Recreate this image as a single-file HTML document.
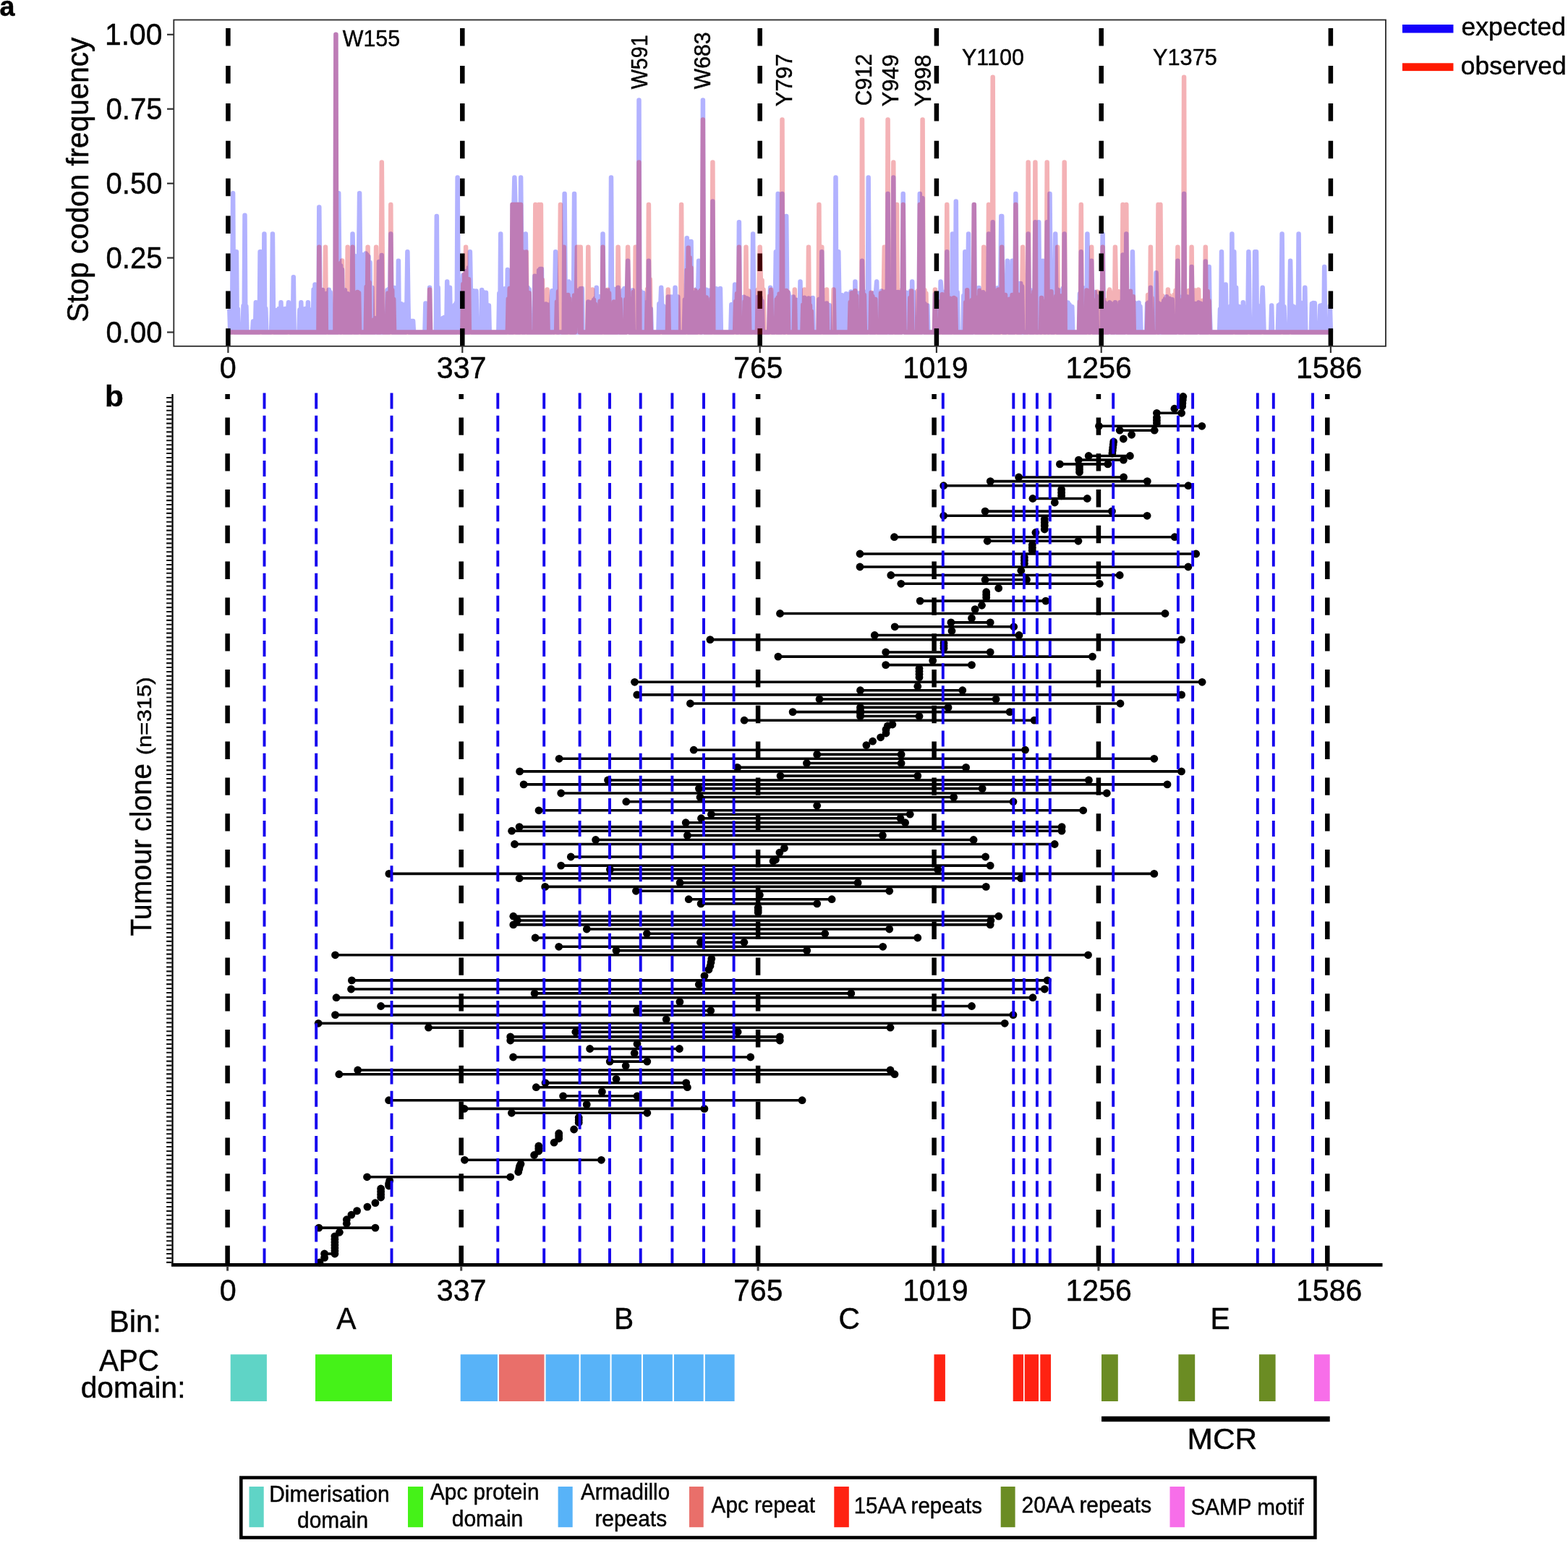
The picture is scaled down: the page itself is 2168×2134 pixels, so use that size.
<!DOCTYPE html>
<html><head><meta charset="utf-8"><title>APC stop codon frequency and tumour clone mutations</title>
<style>html,body{margin:0;padding:0;background:#fff;}svg{display:block;}text{font-family:"Liberation Sans",Arial,sans-serif;fill:#000;stroke:#000;stroke-width:0.45px;}</style>
</head><body>
<svg width="2168" height="2134" viewBox="0 0 2168 2134">
<rect width="2168" height="2134" fill="#fff"/>
<path d="M317.3,427.7 318.3,459.5 319.2,424.6 320.2,459.5 321.2,422.7 322.1,267.2 323.1,427.0 324.1,459.5 325.0,423.0 326.0,459.5 326.9,348.3 327.9,459.5 328.9,427.5 329.8,459.5 330.8,459.5 331.7,459.5 332.7,459.5 333.7,459.5 334.6,459.5 335.6,459.5 336.5,422.9 337.5,459.5 338.5,297.7 339.4,459.5 340.4,423.8 341.4,459.5 342.3,459.5 343.3,459.5 344.2,459.5 345.2,459.5 346.2,459.5 347.1,459.5 348.1,459.5 349.0,459.5 350.0,444.4 351.0,459.5 351.9,445.4 352.9,459.5 353.8,418.3 354.8,459.5 355.8,459.5 356.7,459.5 357.7,459.5 358.7,459.5 359.6,348.3 360.6,348.3 361.5,429.4 362.5,459.5 363.5,428.5 364.4,459.5 365.4,323.6 366.3,459.5 367.3,426.8 368.3,459.5 369.2,459.5 370.2,459.5 371.1,459.5 372.1,459.5 373.1,459.5 374.0,459.5 375.0,459.5 376.0,428.6 376.9,323.6 377.9,429.2 378.8,459.5 379.8,429.4 380.8,459.5 381.7,429.3 382.7,459.5 383.6,429.9 384.6,459.5 385.6,427.1 386.5,459.5 387.5,459.5 388.5,418.3 389.4,459.5 390.4,459.5 391.3,459.5 392.3,459.5 393.3,459.5 394.2,427.0 395.2,459.5 396.1,430.1 397.1,459.5 398.1,429.4 399.0,418.3 400.0,429.6 400.9,459.5 401.9,429.0 402.9,459.5 403.8,429.2 404.8,459.5 405.8,383.3 406.7,459.5 407.7,459.5 408.6,459.5 409.6,459.5 410.6,459.5 411.5,459.5 412.5,459.5 413.4,459.5 414.4,428.4 415.4,459.5 416.3,418.3 417.3,459.5 418.2,427.5 419.2,459.5 420.2,430.4 421.1,459.5 422.1,427.0 423.1,459.5 424.0,428.0 425.0,459.5 425.9,418.3 426.9,459.5 427.9,428.3 428.8,459.5 429.8,459.5 430.7,459.5 431.7,459.5 432.7,459.5 433.6,400.4 434.6,459.5 435.5,393.6 436.5,459.5 437.5,398.8 438.4,459.5 439.4,401.6 440.4,459.5 441.3,286.6 442.3,402.0 443.2,459.5 444.2,404.9 445.2,459.5 446.1,401.0 447.1,459.5 448.0,406.5 449.0,459.5 450.0,407.4 450.9,459.5 451.9,405.7 452.9,405.9 453.8,459.5 454.8,400.7 455.7,459.5 456.7,404.2 457.7,459.5 458.6,459.5 459.6,459.5 460.5,459.5 461.5,459.5 462.5,459.5 463.4,459.5 464.4,47.8 465.3,459.5 466.3,459.5 467.3,459.5 468.2,267.2 469.2,369.3 470.2,459.5 471.1,367.5 472.1,459.5 473.0,373.1 474.0,445.4 475.0,459.5 475.9,444.2 476.9,401.2 477.8,459.5 478.8,406.8 479.8,459.5 480.7,406.3 481.7,459.5 482.6,409.4 483.6,459.5 484.6,407.9 485.5,459.5 486.5,459.5 487.5,323.6 488.4,363.1 489.4,459.5 490.3,354.1 491.3,459.5 492.3,364.0 493.2,459.5 494.2,354.3 495.1,459.5 496.1,358.5 497.1,267.2 498.0,356.6 499.0,459.5 500.0,352.0 500.9,459.5 501.9,459.5 502.8,459.5 503.8,459.5 504.8,459.5 505.7,350.5 506.7,459.5 507.6,352.5 508.6,459.5 509.6,354.9 510.5,459.5 511.5,362.9 512.4,459.5 513.4,459.5 514.4,397.7 515.3,459.5 516.3,439.2 517.3,459.5 518.2,440.3 519.2,459.5 520.1,440.6 521.1,459.5 522.1,441.6 523.0,459.5 524.0,362.0 524.9,459.5 525.9,362.7 526.9,459.5 527.8,353.0 528.8,459.5 529.7,459.5 530.7,459.5 531.7,459.5 532.6,459.5 533.6,459.5 534.6,459.5 535.5,401.3 536.5,459.5 537.4,399.9 538.4,459.5 539.4,398.5 540.3,323.6 541.3,399.1 542.2,459.5 543.2,403.8 544.2,459.5 545.1,397.9 546.1,459.5 547.0,420.1 548.0,459.5 549.0,419.2 549.9,459.5 550.9,360.7 551.9,459.5 552.8,422.1 553.8,459.5 554.7,420.3 555.7,459.5 556.7,422.6 557.6,459.5 558.6,421.5 559.5,459.5 560.5,422.1 561.5,459.5 562.4,422.5 563.4,348.3 564.4,418.7 565.3,459.5 566.3,459.5 567.2,459.5 568.2,459.5 569.2,444.0 570.1,459.5 571.1,444.0 572.0,459.5 573.0,459.5 574.0,459.5 574.9,459.5 575.9,459.5 576.8,459.5 577.8,459.5 578.8,459.5 579.7,459.5 580.7,459.5 581.7,459.5 582.6,459.5 583.6,459.5 584.5,459.5 585.5,459.5 586.5,459.5 587.4,459.5 588.4,419.5 589.3,459.5 590.3,424.4 591.3,459.5 592.2,459.5 593.2,459.5 594.1,397.7 595.1,459.5 596.1,459.5 597.0,459.5 598.0,459.5 599.0,459.5 599.9,459.5 600.9,459.5 601.8,459.5 602.8,459.5 603.8,298.9 604.7,459.5 605.7,397.7 606.6,459.5 607.6,459.5 608.6,459.5 609.5,459.5 610.5,459.5 611.4,459.5 612.4,440.0 613.4,459.5 614.3,439.1 615.3,459.5 616.3,438.9 617.2,459.5 618.2,389.5 619.1,459.5 620.1,439.2 621.1,459.5 622.0,397.7 623.0,459.5 623.9,439.0 624.9,459.5 625.9,459.5 626.8,459.5 627.8,459.5 628.8,422.1 629.7,459.5 630.7,419.2 631.6,459.5 632.6,245.4 633.6,400.1 634.5,459.5 635.5,401.0 636.4,459.5 637.4,401.1 638.4,459.5 639.3,398.9 640.3,380.5 641.2,459.5 642.2,382.4 643.2,459.5 644.1,375.3 645.1,459.5 646.1,375.5 647.0,459.5 648.0,370.1 648.9,459.5 649.9,348.3 650.9,404.7 651.8,459.5 652.8,404.6 653.7,459.5 654.7,402.2 655.7,459.5 656.6,404.2 657.6,459.5 658.5,402.5 659.5,459.5 660.5,459.5 661.4,459.5 662.4,459.5 663.4,459.5 664.3,459.5 665.3,459.5 666.2,401.1 667.2,459.5 668.2,404.1 669.1,459.5 670.1,406.2 671.0,459.5 672.0,404.8 673.0,459.5 673.9,459.5 674.9,459.5 675.9,422.4 676.8,459.5 677.8,459.5 678.7,459.5 679.7,459.5 680.7,459.5 681.6,459.5 682.6,459.5 683.5,459.5 684.5,459.5 685.5,459.5 686.4,459.5 687.4,459.5 688.3,459.5 689.3,459.5 690.3,405.7 691.2,459.5 692.2,323.6 693.2,459.5 694.1,400.2 695.1,459.5 696.0,401.1 697.0,459.5 698.0,399.3 698.9,459.5 699.9,459.5 700.8,459.5 701.8,373.0 702.8,387.1 703.7,459.5 704.7,387.3 705.6,459.5 706.6,386.3 707.6,459.5 708.5,282.9 709.5,459.5 710.5,282.9 711.4,245.4 712.4,282.9 713.3,459.5 714.3,282.9 715.3,459.5 716.2,282.9 717.2,459.5 718.1,282.9 719.1,459.5 720.1,245.4 721.0,340.2 722.0,459.5 722.9,345.6 723.9,459.5 724.9,342.6 725.8,459.5 726.8,323.6 727.8,398.0 728.7,459.5 729.7,398.0 730.6,459.5 731.6,400.3 732.6,459.5 733.5,459.5 734.5,459.5 735.4,459.5 736.4,459.5 737.4,459.5 738.3,459.5 739.3,381.7 740.3,459.5 741.2,382.3 742.2,459.5 743.1,381.9 744.1,459.5 745.1,373.9 746.0,459.5 747.0,371.9 747.9,459.5 748.9,372.0 749.9,459.5 750.8,459.5 751.8,459.5 752.7,459.5 753.7,459.5 754.7,420.4 755.6,459.5 756.6,421.3 757.6,459.5 758.5,424.4 759.5,459.5 760.4,459.5 761.4,459.5 762.4,418.3 763.3,402.2 764.3,459.5 765.2,403.8 766.2,459.5 767.2,405.2 768.1,348.3 769.1,398.5 770.0,459.5 771.0,459.5 772.0,459.5 772.9,459.5 773.9,459.5 774.9,459.5 775.8,459.5 776.8,459.5 777.7,459.5 778.7,459.5 779.7,459.5 780.6,268.1 781.6,397.7 782.5,459.5 783.5,397.4 784.5,459.5 785.4,394.5 786.4,389.5 787.3,391.4 788.3,459.5 789.3,397.8 790.2,459.5 791.2,393.0 792.2,459.5 793.1,397.9 794.1,268.1 795.0,459.5 796.0,459.5 797.0,401.5 797.9,459.5 798.9,406.5 799.8,459.5 800.8,404.5 801.8,459.5 802.7,399.3 803.7,459.5 804.7,398.9 805.6,459.5 806.6,459.5 807.5,459.5 808.5,459.5 809.5,459.5 810.4,459.5 811.4,459.5 812.3,459.5 813.3,417.4 814.3,459.5 815.2,418.7 816.2,459.5 817.1,418.4 818.1,459.5 819.1,418.3 820.0,459.5 821.0,415.0 822.0,459.5 822.9,412.7 823.9,459.5 824.8,397.7 825.8,459.5 826.8,411.1 827.7,459.5 828.7,410.2 829.6,459.5 830.6,417.3 831.6,459.5 832.5,459.5 833.5,323.6 834.4,402.6 835.4,459.5 836.4,406.4 837.3,459.5 838.3,401.8 839.3,459.5 840.2,405.8 841.2,459.5 842.1,405.4 843.1,459.5 844.1,459.5 845.0,245.4 846.0,400.1 846.9,459.5 847.9,400.5 848.9,459.5 849.8,400.0 850.8,459.5 851.7,403.2 852.7,459.5 853.7,459.5 854.6,397.7 855.6,459.5 856.6,459.5 857.5,459.5 858.5,459.5 859.4,459.5 860.4,459.5 861.4,401.6 862.3,459.5 863.3,399.0 864.2,459.5 865.2,406.2 866.2,459.5 867.1,401.0 868.1,360.7 869.1,402.0 870.0,459.5 871.0,403.1 871.9,459.5 872.9,406.1 873.9,459.5 874.8,401.6 875.8,459.5 876.7,459.5 877.7,459.5 878.7,459.5 879.6,459.5 880.6,459.5 881.5,459.5 882.5,459.5 883.5,138.4 884.4,459.5 885.4,402.5 886.4,459.5 887.3,405.8 888.3,459.5 889.2,404.9 890.2,459.5 891.2,418.3 892.1,459.5 893.1,459.5 894.0,459.5 895.0,459.5 896.0,459.5 896.9,360.7 897.9,430.4 898.8,459.5 899.8,427.3 900.8,459.5 901.7,459.5 902.7,459.5 903.7,459.5 904.6,459.5 905.6,459.5 906.5,459.5 907.5,459.5 908.5,459.5 909.4,459.5 910.4,459.5 911.3,420.3 912.3,459.5 913.3,421.5 914.2,397.7 915.2,421.8 916.1,459.5 917.1,423.2 918.1,459.5 919.0,459.5 920.0,459.5 921.0,459.5 921.9,459.5 922.9,459.5 923.8,410.5 924.8,459.5 925.8,411.5 926.7,459.5 927.7,410.4 928.6,459.5 929.6,410.8 930.6,459.5 931.5,413.4 932.5,459.5 933.5,397.7 934.4,459.5 935.4,416.7 936.3,459.5 937.3,410.6 938.3,459.5 939.2,459.5 940.2,459.5 941.1,459.5 942.1,459.5 943.1,459.5 944.0,459.5 945.0,459.5 945.9,459.5 946.9,414.6 947.9,459.5 948.8,411.6 949.8,329.3 950.8,459.5 951.7,334.0 952.7,459.5 953.6,340.1 954.6,459.5 955.6,334.0 956.5,459.5 957.5,404.2 958.4,459.5 959.4,405.9 960.4,459.5 961.3,406.5 962.3,459.5 963.2,400.1 964.2,459.5 965.2,402.9 966.1,360.7 967.1,406.5 968.1,459.5 969.0,459.5 970.0,459.5 970.9,459.5 971.9,138.4 972.9,401.6 973.8,459.5 974.8,401.4 975.7,459.5 976.7,400.7 977.7,459.5 978.6,404.0 979.6,459.5 980.6,401.7 981.5,459.5 982.5,459.5 983.4,459.5 984.4,459.5 985.4,278.4 986.3,405.0 987.3,459.5 988.2,406.1 989.2,459.5 990.2,399.2 991.1,459.5 992.1,404.4 993.0,459.5 994.0,403.9 995.0,459.5 995.9,399.1 996.9,459.5 997.9,459.5 998.8,459.5 999.8,459.5 1000.7,459.5 1001.7,459.5 1002.7,459.5 1003.6,459.5 1004.6,459.5 1005.5,459.5 1006.5,459.5 1007.5,459.5 1008.4,459.5 1009.4,459.5 1010.3,459.5 1011.3,421.3 1012.3,459.5 1013.2,424.4 1014.2,459.5 1015.2,423.5 1016.1,393.6 1017.1,419.3 1018.0,459.5 1019.0,459.5 1020.0,459.5 1020.9,459.5 1021.9,307.2 1022.8,413.1 1023.8,459.5 1024.8,413.2 1025.7,459.5 1026.7,412.7 1027.6,459.5 1028.6,410.8 1029.6,459.5 1030.5,412.8 1031.5,459.5 1032.5,412.6 1033.4,459.5 1034.4,413.5 1035.3,459.5 1036.3,415.3 1037.3,459.5 1038.2,459.5 1039.2,459.5 1040.1,459.5 1041.1,323.6 1042.1,413.9 1043.0,459.5 1044.0,412.3 1045.0,459.5 1045.9,417.2 1046.9,459.5 1047.8,410.9 1048.8,459.5 1049.8,416.9 1050.7,459.5 1051.7,411.8 1052.6,459.5 1053.6,416.6 1054.6,459.5 1055.5,459.5 1056.5,459.5 1057.4,459.5 1058.4,459.5 1059.4,459.5 1060.3,459.5 1061.3,459.5 1062.3,459.5 1063.2,459.5 1064.2,416.8 1065.1,397.7 1066.1,411.4 1067.1,459.5 1068.0,415.7 1069.0,459.5 1069.9,416.2 1070.9,459.5 1071.9,416.4 1072.8,348.3 1073.8,459.5 1074.7,459.5 1075.7,268.1 1076.7,459.5 1077.6,459.5 1078.6,459.5 1079.6,459.5 1080.5,459.5 1081.5,268.1 1082.4,405.4 1083.4,459.5 1084.4,406.5 1085.3,459.5 1086.3,406.3 1087.2,298.9 1088.2,406.1 1089.2,459.5 1090.1,404.7 1091.1,410.5 1092.0,459.5 1093.0,418.3 1094.0,459.5 1094.9,413.2 1095.9,459.5 1096.9,410.6 1097.8,459.5 1098.8,417.0 1099.7,459.5 1100.7,414.8 1101.7,459.5 1102.6,459.5 1103.6,459.5 1104.5,459.5 1105.5,459.5 1106.5,389.5 1107.4,459.5 1108.4,459.5 1109.4,459.5 1110.3,414.6 1111.3,459.5 1112.2,411.7 1113.2,459.5 1114.2,416.5 1115.1,459.5 1116.1,413.5 1117.0,459.5 1118.0,412.6 1119.0,459.5 1119.9,414.2 1120.9,459.5 1121.8,417.0 1122.8,459.5 1123.8,412.1 1124.7,459.5 1125.7,459.5 1126.7,459.5 1127.6,459.5 1128.6,459.5 1129.5,459.5 1130.5,459.5 1131.5,459.5 1132.4,414.0 1133.4,459.5 1134.3,459.5 1135.3,459.5 1136.3,348.3 1137.2,424.1 1138.2,459.5 1139.1,424.3 1140.1,459.5 1141.1,419.9 1142.0,459.5 1143.0,419.4 1144.0,459.5 1144.9,424.1 1145.9,459.5 1146.8,422.2 1147.8,459.5 1148.8,459.5 1149.7,459.5 1150.7,459.5 1151.6,459.5 1152.6,459.5 1153.6,459.5 1154.5,459.5 1155.5,245.4 1156.5,459.5 1157.4,459.5 1158.4,459.5 1159.3,348.3 1160.3,409.6 1161.3,459.5 1162.2,411.4 1163.2,459.5 1164.1,408.2 1165.1,459.5 1166.1,412.4 1167.0,459.5 1168.0,414.0 1168.9,459.5 1169.9,406.3 1170.9,459.5 1171.8,459.5 1172.8,459.5 1173.8,459.5 1174.7,406.6 1175.7,459.5 1176.6,403.5 1177.6,459.5 1178.6,406.0 1179.5,459.5 1180.5,409.9 1181.4,459.5 1182.4,389.5 1183.4,459.5 1184.3,408.9 1185.3,459.5 1186.2,405.6 1187.2,459.5 1188.2,406.1 1189.1,459.5 1190.1,459.5 1191.1,459.5 1192.0,360.7 1193.0,410.3 1193.9,459.5 1194.9,404.5 1195.9,459.5 1196.8,403.7 1197.8,459.5 1198.7,403.8 1199.7,459.5 1200.7,245.4 1201.6,409.1 1202.6,459.5 1203.5,408.0 1204.5,459.5 1205.5,407.4 1206.4,459.5 1207.4,405.4 1208.4,459.5 1209.3,404.9 1210.3,459.5 1211.2,402.3 1212.2,389.5 1213.2,459.5 1214.1,459.5 1215.1,459.5 1216.0,459.5 1217.0,459.5 1218.0,459.5 1218.9,402.5 1219.9,459.5 1220.9,408.3 1221.8,459.5 1222.8,404.1 1223.7,459.5 1224.7,403.3 1225.7,459.5 1226.6,459.5 1227.6,268.1 1228.5,459.5 1229.5,459.5 1230.5,459.5 1231.4,459.5 1232.4,459.5 1233.3,459.5 1234.3,459.5 1235.3,245.4 1236.2,409.4 1237.2,459.5 1238.2,407.7 1239.1,459.5 1240.1,404.3 1241.0,459.5 1242.0,404.0 1243.0,459.5 1243.9,404.4 1244.9,459.5 1245.8,405.8 1246.8,459.5 1247.8,403.2 1248.7,268.1 1249.7,401.9 1250.6,459.5 1251.6,405.0 1252.6,459.5 1253.5,404.7 1254.5,459.5 1255.5,410.4 1256.4,459.5 1257.4,404.7 1258.3,459.5 1259.3,402.2 1260.3,459.5 1261.2,389.5 1262.2,459.5 1263.1,403.7 1264.1,459.5 1265.1,459.5 1266.0,459.5 1267.0,459.5 1267.9,459.5 1268.9,459.5 1269.9,459.5 1270.8,404.8 1271.8,268.1 1272.8,459.5 1273.7,459.5 1274.7,459.5 1275.6,274.2 1276.6,418.8 1277.6,459.5 1278.5,420.1 1279.5,459.5 1280.4,422.4 1281.4,459.5 1282.4,422.4 1283.3,459.5 1284.3,459.5 1285.3,459.5 1286.2,459.5 1287.2,459.5 1288.1,459.5 1289.1,459.5 1290.1,459.5 1291.0,459.5 1292.0,459.5 1292.9,406.7 1293.9,459.5 1294.9,409.2 1295.8,459.5 1296.8,406.3 1297.7,459.5 1298.7,406.2 1299.7,459.5 1300.6,389.5 1301.6,402.6 1302.6,459.5 1303.5,410.1 1304.5,459.5 1305.4,409.2 1306.4,459.5 1307.4,403.2 1308.3,459.5 1309.3,348.3 1310.2,459.5 1311.2,408.6 1312.2,459.5 1313.1,459.5 1314.1,459.5 1315.0,459.5 1316.0,459.5 1317.0,323.6 1317.9,408.5 1318.9,459.5 1319.9,408.1 1320.8,459.5 1321.8,278.4 1322.7,459.5 1323.7,404.3 1324.7,459.5 1325.6,459.5 1326.6,459.5 1327.5,459.5 1328.5,459.5 1329.5,459.5 1330.4,459.5 1331.4,459.5 1332.3,409.1 1333.3,459.5 1334.3,348.3 1335.2,459.5 1336.2,407.3 1337.2,459.5 1338.1,408.2 1339.1,323.6 1340.0,459.5 1341.0,459.5 1342.0,459.5 1342.9,459.5 1343.9,459.5 1344.8,459.5 1345.8,459.5 1346.8,282.9 1347.7,404.7 1348.7,459.5 1349.7,403.0 1350.6,459.5 1351.6,405.3 1352.5,459.5 1353.5,397.9 1354.5,459.5 1355.4,404.1 1356.4,459.5 1357.3,405.1 1358.3,459.5 1359.3,404.3 1360.2,459.5 1361.2,406.6 1362.1,459.5 1363.1,459.5 1364.1,459.5 1365.0,459.5 1366.0,459.5 1367.0,323.6 1367.9,459.5 1368.9,459.5 1369.8,398.0 1370.8,459.5 1371.8,399.0 1372.7,307.2 1373.7,406.6 1374.6,459.5 1375.6,401.2 1376.6,459.5 1377.5,401.9 1378.5,459.5 1379.4,398.2 1380.4,459.5 1381.4,397.9 1382.3,459.5 1383.3,402.7 1384.3,298.9 1385.2,298.9 1386.2,402.3 1387.1,459.5 1388.1,397.8 1389.1,459.5 1390.0,405.1 1391.0,459.5 1391.9,404.7 1392.9,360.7 1393.9,402.4 1394.8,459.5 1395.8,402.7 1396.8,459.5 1397.7,459.5 1398.7,459.5 1399.6,360.7 1400.6,459.5 1401.6,459.5 1402.5,459.5 1403.5,400.1 1404.4,268.1 1405.4,398.4 1406.4,459.5 1407.3,392.0 1408.3,459.5 1409.2,397.5 1410.2,459.5 1411.2,391.9 1412.1,459.5 1413.1,396.3 1414.1,459.5 1415.0,459.5 1416.0,459.5 1416.9,459.5 1417.9,459.5 1418.9,459.5 1419.8,459.5 1420.8,459.5 1421.7,323.6 1422.7,402.3 1423.7,459.5 1424.6,401.3 1425.6,459.5 1426.5,402.2 1427.5,459.5 1428.5,404.1 1429.4,459.5 1430.4,404.8 1431.4,307.2 1432.3,459.5 1433.3,459.5 1434.2,459.5 1435.2,459.5 1436.2,307.2 1437.1,398.5 1438.1,459.5 1439.0,399.1 1440.0,459.5 1441.0,400.1 1441.9,360.7 1442.9,404.6 1443.8,459.5 1444.8,400.6 1445.8,459.5 1446.7,403.0 1447.7,307.2 1448.7,459.5 1449.6,459.5 1450.6,459.5 1451.5,268.1 1452.5,389.6 1453.5,459.5 1454.4,390.1 1455.4,459.5 1456.3,392.3 1457.3,459.5 1458.3,396.6 1459.2,323.6 1460.2,404.0 1461.2,459.5 1462.1,400.4 1463.1,459.5 1464.0,402.5 1465.0,459.5 1466.0,402.0 1466.9,459.5 1467.9,402.1 1468.8,459.5 1469.8,398.8 1470.8,459.5 1471.7,323.6 1472.7,424.4 1473.6,459.5 1474.6,424.1 1475.6,459.5 1476.5,418.4 1477.5,459.5 1478.5,421.2 1479.4,459.5 1480.4,423.4 1481.3,459.5 1482.3,424.3 1483.3,459.5 1484.2,459.5 1485.2,459.5 1486.1,459.5 1487.1,459.5 1488.1,459.5 1489.0,459.5 1490.0,459.5 1490.9,459.5 1491.9,459.5 1492.9,406.2 1493.8,459.5 1494.8,348.3 1495.8,459.5 1496.7,398.4 1497.7,459.5 1498.6,398.6 1499.6,459.5 1500.6,404.7 1501.5,459.5 1502.5,459.5 1503.4,323.6 1504.4,403.0 1505.4,459.5 1506.3,409.0 1507.3,459.5 1508.2,406.3 1509.2,360.7 1510.2,409.5 1511.1,459.5 1512.1,407.9 1513.1,459.5 1514.0,403.9 1515.0,459.5 1515.9,409.6 1516.9,459.5 1517.9,459.5 1518.8,459.5 1519.8,459.5 1520.7,459.5 1521.7,459.5 1522.7,459.5 1523.6,459.5 1524.6,323.6 1525.6,418.5 1526.5,459.5 1527.5,418.4 1528.4,459.5 1529.4,421.4 1530.4,459.5 1531.3,421.1 1532.3,459.5 1533.2,420.2 1534.2,418.3 1535.2,419.2 1536.1,459.5 1537.1,420.5 1538.0,459.5 1539.0,459.5 1540.0,459.5 1540.9,459.5 1541.9,418.3 1542.9,459.5 1543.8,459.5 1544.8,459.5 1545.7,459.5 1546.7,423.5 1547.7,459.5 1548.6,418.3 1549.6,459.5 1550.5,423.0 1551.5,459.5 1552.5,352.5 1553.4,459.5 1554.4,459.5 1555.3,459.5 1556.3,459.5 1557.3,323.6 1558.2,409.1 1559.2,459.5 1560.2,402.9 1561.1,459.5 1562.1,409.9 1563.0,459.5 1564.0,408.0 1565.0,459.5 1565.9,348.3 1566.9,419.9 1567.8,459.5 1568.8,418.7 1569.8,459.5 1570.7,420.7 1571.7,459.5 1572.6,423.7 1573.6,459.5 1574.6,418.8 1575.5,459.5 1576.5,424.0 1577.5,459.5 1578.4,459.5 1579.4,459.5 1580.3,459.5 1581.3,459.5 1582.3,459.5 1583.2,459.5 1584.2,459.5 1585.1,459.5 1586.1,420.1 1587.1,459.5 1588.0,418.6 1589.0,459.5 1590.0,459.5 1590.9,397.7 1591.9,459.5 1592.8,459.5 1593.8,459.5 1594.8,459.5 1595.7,459.5 1596.7,459.5 1597.6,459.5 1598.6,377.2 1599.6,422.3 1600.5,459.5 1601.5,419.2 1602.4,459.5 1603.4,424.3 1604.4,459.5 1605.3,421.0 1606.3,459.5 1607.3,420.3 1608.2,459.5 1609.2,415.9 1610.1,459.5 1611.1,413.3 1612.1,459.5 1613.0,410.3 1614.0,459.5 1614.9,415.7 1615.9,459.5 1616.9,413.1 1617.8,459.5 1618.8,416.6 1619.7,459.5 1620.7,414.2 1621.7,459.5 1622.6,459.5 1623.6,459.5 1624.6,459.5 1625.5,459.5 1626.5,459.5 1627.4,459.5 1628.4,360.7 1629.4,415.4 1630.3,459.5 1631.3,410.5 1632.2,459.5 1633.2,415.5 1634.2,459.5 1635.1,413.4 1636.1,459.5 1637.1,268.1 1638.0,414.9 1639.0,459.5 1639.9,412.2 1640.9,459.5 1641.9,410.5 1642.8,459.5 1643.8,417.0 1644.7,459.5 1645.7,411.0 1646.7,459.5 1647.6,368.9 1648.6,420.9 1649.5,459.5 1650.5,420.1 1651.5,459.5 1652.4,419.9 1653.4,459.5 1654.4,422.9 1655.3,459.5 1656.3,422.4 1657.2,418.3 1658.2,420.8 1659.2,459.5 1660.1,419.8 1661.1,459.5 1662.0,421.3 1663.0,459.5 1664.0,459.5 1664.9,459.5 1665.9,459.5 1666.8,361.5 1667.8,459.5 1668.8,459.5 1669.7,459.5 1670.7,459.5 1671.7,368.9 1672.6,431.2 1673.6,459.5 1674.5,459.5 1675.5,459.5 1676.5,459.5 1677.4,459.5 1678.4,459.5 1679.3,459.5 1680.3,459.5 1681.3,459.5 1682.2,459.5 1683.2,459.5 1684.1,459.5 1685.1,459.5 1686.1,459.5 1687.0,427.5 1688.0,459.5 1689.0,348.3 1689.9,459.5 1690.9,423.7 1691.8,459.5 1692.8,427.5 1693.8,459.5 1694.7,393.6 1695.7,459.5 1696.6,459.5 1697.6,459.5 1698.6,459.5 1699.5,459.5 1700.5,459.5 1701.5,423.2 1702.4,459.5 1703.4,323.6 1704.3,459.5 1705.3,423.0 1706.3,348.3 1707.2,424.3 1708.2,459.5 1709.1,397.7 1710.1,459.5 1711.1,423.8 1712.0,459.5 1713.0,423.9 1713.9,459.5 1714.9,459.5 1715.9,459.5 1716.8,459.5 1717.8,459.5 1718.8,418.3 1719.7,459.5 1720.7,459.5 1721.6,426.6 1722.6,459.5 1723.6,424.7 1724.5,459.5 1725.5,424.7 1726.4,348.3 1727.4,425.4 1728.4,459.5 1729.3,459.5 1730.3,459.5 1731.2,459.5 1732.2,459.5 1733.2,459.5 1734.1,459.5 1735.1,348.3 1736.1,459.5 1737.0,348.3 1738.0,459.5 1738.9,422.8 1739.9,459.5 1740.9,424.0 1741.8,459.5 1742.8,427.8 1743.7,459.5 1744.7,423.1 1745.7,397.7 1746.6,425.2 1747.6,459.5 1748.5,459.5 1749.5,459.5 1750.5,459.5 1751.4,459.5 1752.4,459.5 1753.4,459.5 1754.3,459.5 1755.3,459.5 1756.2,459.5 1757.2,459.5 1758.2,422.4 1759.1,459.5 1760.1,459.5 1761.0,459.5 1762.0,459.5 1763.0,459.5 1763.9,459.5 1764.9,459.5 1765.9,459.5 1766.8,459.5 1767.8,422.3 1768.7,459.5 1769.7,421.0 1770.7,459.5 1771.6,420.3 1772.6,323.6 1773.5,423.4 1774.5,459.5 1775.5,424.3 1776.4,459.5 1777.4,459.5 1778.3,459.5 1779.3,459.5 1780.3,459.5 1781.2,459.5 1782.2,459.5 1783.2,421.0 1784.1,360.7 1785.1,423.0 1786.0,459.5 1787.0,423.3 1788.0,459.5 1788.9,424.3 1789.9,459.5 1790.8,459.5 1791.8,459.5 1792.8,459.5 1793.7,459.5 1794.7,459.5 1795.6,323.6 1796.6,459.5 1797.6,459.5 1798.5,418.8 1799.5,459.5 1800.5,424.1 1801.4,459.5 1802.4,424.1 1803.3,459.5 1804.3,397.7 1805.3,459.5 1806.2,459.5 1807.2,459.5 1808.1,459.5 1809.1,459.5 1810.1,459.5 1811.0,459.5 1812.0,459.5 1812.9,459.5 1813.9,419.9 1814.9,459.5 1815.8,419.0 1816.8,459.5 1817.8,419.3 1818.7,459.5 1819.7,459.5 1820.6,459.5 1821.6,459.5 1822.6,459.5 1823.5,459.5 1824.5,459.5 1825.4,422.8 1826.4,459.5 1827.4,422.3 1828.3,459.5 1829.3,423.1 1830.3,459.5 1831.2,368.9 1832.2,459.5 1833.1,459.5 1834.1,459.5 1835.1,459.5 1836.0,459.5 1837.0,459.5 1837.9,459.5 1838.9,423.2 1839.9,459.5" fill="none" stroke="#0000ff" stroke-opacity="0.3" stroke-width="6.5" stroke-linejoin="round" stroke-linecap="butt"/>
<line x1="1050.7" y1="478.8" x2="1050.7" y2="27.5" stroke="#000" stroke-width="6.5" stroke-dasharray="24.5 27.4"/>
<path d="M317.3,459.5 318.3,459.5 319.2,459.5 320.2,459.5 321.2,459.5 322.1,459.5 323.1,459.5 324.1,459.5 325.0,459.5 326.0,459.5 326.9,459.5 327.9,459.5 328.9,459.5 329.8,459.5 330.8,459.5 331.7,459.5 332.7,459.5 333.7,459.5 334.6,459.5 335.6,459.5 336.5,459.5 337.5,459.5 338.5,459.5 339.4,459.5 340.4,459.5 341.4,459.5 342.3,459.5 343.3,459.5 344.2,459.5 345.2,459.5 346.2,459.5 347.1,459.5 348.1,459.5 349.0,459.5 350.0,459.5 351.0,459.5 351.9,459.5 352.9,459.5 353.8,459.5 354.8,459.5 355.8,459.5 356.7,459.5 357.7,459.5 358.7,459.5 359.6,459.5 360.6,459.5 361.5,459.5 362.5,459.5 363.5,459.5 364.4,459.5 365.4,459.5 366.3,459.5 367.3,459.5 368.3,459.5 369.2,459.5 370.2,459.5 371.1,459.5 372.1,459.5 373.1,459.5 374.0,459.5 375.0,459.5 376.0,459.5 376.9,459.5 377.9,459.5 378.8,459.5 379.8,459.5 380.8,459.5 381.7,459.5 382.7,459.5 383.6,459.5 384.6,459.5 385.6,459.5 386.5,459.5 387.5,459.5 388.5,459.5 389.4,459.5 390.4,459.5 391.3,459.5 392.3,459.5 393.3,459.5 394.2,459.5 395.2,459.5 396.1,459.5 397.1,459.5 398.1,459.5 399.0,459.5 400.0,459.5 400.9,459.5 401.9,459.5 402.9,459.5 403.8,459.5 404.8,459.5 405.8,459.5 406.7,459.5 407.7,459.5 408.6,459.5 409.6,459.5 410.6,459.5 411.5,459.5 412.5,459.5 413.4,459.5 414.4,459.5 415.4,459.5 416.3,459.5 417.3,459.5 418.2,459.5 419.2,459.5 420.2,459.5 421.1,459.5 422.1,459.5 423.1,459.5 424.0,459.5 425.0,459.5 425.9,459.5 426.9,459.5 427.9,459.5 428.8,459.5 429.8,459.5 430.7,459.5 431.7,459.5 432.7,459.5 433.6,459.5 434.6,459.5 435.5,459.5 436.5,459.5 437.5,459.5 438.4,459.5 439.4,459.5 440.4,459.5 441.3,341.8 442.3,459.5 443.2,410.7 444.2,459.5 445.2,401.3 446.1,459.5 447.1,459.5 448.0,459.5 449.0,459.5 450.0,341.8 450.9,459.5 451.9,459.5 452.9,459.5 453.8,459.5 454.8,459.5 455.7,459.5 456.7,459.5 457.7,459.5 458.6,459.5 459.6,459.5 460.5,459.5 461.5,459.5 462.5,459.5 463.4,459.5 464.4,47.8 465.3,459.5 466.3,459.5 467.3,459.5 468.2,459.5 469.2,375.8 470.2,459.5 471.1,363.9 472.1,459.5 473.0,360.4 474.0,459.5 475.0,459.5 475.9,459.5 476.9,413.0 477.8,459.5 478.8,402.6 479.8,459.5 480.7,341.8 481.7,459.5 482.6,459.5 483.6,459.5 484.6,459.5 485.5,459.5 486.5,459.5 487.5,341.8 488.4,459.5 489.4,459.5 490.3,459.5 491.3,459.5 492.3,417.3 493.2,459.5 494.2,404.0 495.1,459.5 496.1,405.2 497.1,459.5 498.0,459.5 499.0,459.5 500.0,459.5 500.9,459.5 501.9,459.5 502.8,459.5 503.8,459.5 504.8,459.5 505.7,459.5 506.7,396.7 507.6,459.5 508.6,341.8 509.6,459.5 510.5,390.4 511.5,459.5 512.4,459.5 513.4,459.5 514.4,459.5 515.3,459.5 516.3,459.5 517.3,442.2 518.2,459.5 519.2,436.9 520.1,341.8 521.1,437.1 522.1,459.5 523.0,441.0 524.0,459.5 524.9,356.4 525.9,459.5 526.9,365.9 527.8,224.4 528.8,366.6 529.7,459.5 530.7,459.5 531.7,459.5 532.6,459.5 533.6,459.5 534.6,459.5 535.5,459.5 536.5,405.4 537.4,459.5 538.4,409.8 539.4,459.5 540.3,282.9 541.3,459.5 542.2,401.3 543.2,459.5 544.2,414.1 545.1,459.5 546.1,459.5 547.0,459.5 548.0,459.5 549.0,459.5 549.9,459.5 550.9,459.5 551.9,459.5 552.8,459.5 553.8,459.5 554.7,459.5 555.7,459.5 556.7,459.5 557.6,459.5 558.6,459.5 559.5,459.5 560.5,459.5 561.5,459.5 562.4,459.5 563.4,459.5 564.4,459.5 565.3,459.5 566.3,459.5 567.2,459.5 568.2,459.5 569.2,459.5 570.1,459.5 571.1,459.5 572.0,459.5 573.0,459.5 574.0,459.5 574.9,459.5 575.9,459.5 576.8,459.5 577.8,459.5 578.8,459.5 579.7,459.5 580.7,459.5 581.7,459.5 582.6,459.5 583.6,459.5 584.5,459.5 585.5,459.5 586.5,459.5 587.4,459.5 588.4,459.5 589.3,459.5 590.3,459.5 591.3,459.5 592.2,459.5 593.2,459.5 594.1,400.6 595.1,459.5 596.1,459.5 597.0,459.5 598.0,459.5 599.0,459.5 599.9,459.5 600.9,459.5 601.8,459.5 602.8,459.5 603.8,459.5 604.7,459.5 605.7,459.5 606.6,459.5 607.6,459.5 608.6,459.5 609.5,459.5 610.5,459.5 611.4,459.5 612.4,459.5 613.4,459.5 614.3,459.5 615.3,459.5 616.3,459.5 617.2,459.5 618.2,459.5 619.1,459.5 620.1,459.5 621.1,459.5 622.0,459.5 623.0,459.5 623.9,459.5 624.9,459.5 625.9,459.5 626.8,459.5 627.8,459.5 628.8,459.5 629.7,459.5 630.7,459.5 631.6,459.5 632.6,459.5 633.6,459.5 634.5,459.5 635.5,459.5 636.4,459.5 637.4,459.5 638.4,459.5 639.3,459.5 640.3,393.1 641.2,459.5 642.2,379.2 643.2,459.5 644.1,341.8 645.1,459.5 646.1,387.6 647.0,459.5 648.0,386.3 648.9,459.5 649.9,459.5 650.9,459.5 651.8,459.5 652.8,459.5 653.7,459.5 654.7,459.5 655.7,459.5 656.6,459.5 657.6,459.5 658.5,459.5 659.5,459.5 660.5,459.5 661.4,459.5 662.4,459.5 663.4,459.5 664.3,459.5 665.3,459.5 666.2,459.5 667.2,459.5 668.2,459.5 669.1,459.5 670.1,459.5 671.0,459.5 672.0,459.5 673.0,459.5 673.9,459.5 674.9,459.5 675.9,459.5 676.8,459.5 677.8,459.5 678.7,459.5 679.7,459.5 680.7,459.5 681.6,459.5 682.6,459.5 683.5,459.5 684.5,459.5 685.5,459.5 686.4,459.5 687.4,459.5 688.3,459.5 689.3,459.5 690.3,459.5 691.2,459.5 692.2,459.5 693.2,459.5 694.1,459.5 695.1,459.5 696.0,459.5 697.0,459.5 698.0,459.5 698.9,459.5 699.9,459.5 700.8,459.5 701.8,459.5 702.8,413.4 703.7,459.5 704.7,399.0 705.6,459.5 706.6,406.9 707.6,459.5 708.5,282.9 709.5,459.5 710.5,282.9 711.4,459.5 712.4,282.9 713.3,459.5 714.3,282.9 715.3,459.5 716.2,282.9 717.2,459.5 718.1,282.9 719.1,459.5 720.1,282.9 721.0,459.5 722.0,459.5 722.9,459.5 723.9,348.8 724.9,459.5 725.8,368.8 726.8,459.5 727.8,348.6 728.7,459.5 729.7,408.8 730.6,459.5 731.6,405.3 732.6,459.5 733.5,459.5 734.5,459.5 735.4,459.5 736.4,459.5 737.4,459.5 738.3,459.5 739.3,459.5 740.3,282.9 741.2,459.5 742.2,385.5 743.1,459.5 744.1,459.5 745.1,282.9 746.0,459.5 747.0,459.5 747.9,282.9 748.9,459.5 749.9,387.0 750.8,459.5 751.8,459.5 752.7,459.5 753.7,459.5 754.7,459.5 755.6,459.5 756.6,400.6 757.6,459.5 758.5,459.5 759.5,459.5 760.4,459.5 761.4,459.5 762.4,459.5 763.3,459.5 764.3,459.5 765.2,459.5 766.2,459.5 767.2,459.5 768.1,459.5 769.1,459.5 770.0,417.4 771.0,459.5 772.0,403.2 772.9,459.5 773.9,407.6 774.9,282.9 775.8,404.4 776.8,459.5 777.7,417.8 778.7,459.5 779.7,341.8 780.6,459.5 781.6,459.5 782.5,459.5 783.5,459.5 784.5,459.5 785.4,408.0 786.4,459.5 787.3,413.2 788.3,459.5 789.3,459.5 790.2,459.5 791.2,459.5 792.2,459.5 793.1,459.5 794.1,408.6 795.0,459.5 796.0,413.2 797.0,411.3 797.9,341.8 798.9,416.2 799.8,341.8 800.8,415.0 801.8,459.5 802.7,341.8 803.7,459.5 804.7,459.5 805.6,459.5 806.6,459.5 807.5,459.5 808.5,459.5 809.5,459.5 810.4,459.5 811.4,459.5 812.3,459.5 813.3,341.8 814.3,459.5 815.2,459.5 816.2,459.5 817.1,459.5 818.1,459.5 819.1,400.6 820.0,459.5 821.0,414.7 822.0,459.5 822.9,420.8 823.9,459.5 824.8,459.5 825.8,459.5 826.8,459.5 827.7,459.5 828.7,459.5 829.6,416.7 830.6,459.5 831.6,459.5 832.5,459.5 833.5,341.8 834.4,459.5 835.4,459.5 836.4,459.5 837.3,459.5 838.3,459.5 839.3,459.5 840.2,400.7 841.2,459.5 842.1,405.6 843.1,459.5 844.1,459.5 845.0,459.5 846.0,459.5 846.9,459.5 847.9,459.5 848.9,417.5 849.8,459.5 850.8,459.5 851.7,459.5 852.7,459.5 853.7,459.5 854.6,341.8 855.6,410.5 856.6,459.5 857.5,414.0 858.5,459.5 859.4,459.5 860.4,459.5 861.4,459.5 862.3,459.5 863.3,459.5 864.2,459.5 865.2,414.2 866.2,459.5 867.1,406.1 868.1,341.8 869.1,414.8 870.0,459.5 871.0,459.5 871.9,459.5 872.9,459.5 873.9,413.1 874.8,459.5 875.8,404.1 876.7,459.5 877.7,459.5 878.7,341.8 879.6,459.5 880.6,459.5 881.5,459.5 882.5,459.5 883.5,224.4 884.4,459.5 885.4,459.5 886.4,459.5 887.3,459.5 888.3,459.5 889.2,459.5 890.2,459.5 891.2,459.5 892.1,459.5 893.1,459.5 894.0,459.5 895.0,399.9 896.0,459.5 896.9,282.9 897.9,459.5 898.8,386.2 899.8,459.5 900.8,459.5 901.7,459.5 902.7,459.5 903.7,459.5 904.6,459.5 905.6,459.5 906.5,459.5 907.5,459.5 908.5,459.5 909.4,459.5 910.4,459.5 911.3,459.5 912.3,459.5 913.3,459.5 914.2,459.5 915.2,459.5 916.1,459.5 917.1,459.5 918.1,459.5 919.0,459.5 920.0,459.5 921.0,459.5 921.9,459.5 922.9,459.5 923.8,400.6 924.8,459.5 925.8,459.5 926.7,459.5 927.7,459.5 928.6,459.5 929.6,459.5 930.6,459.5 931.5,459.5 932.5,459.5 933.5,459.5 934.4,459.5 935.4,459.5 936.3,459.5 937.3,459.5 938.3,459.5 939.2,459.5 940.2,459.5 941.1,459.5 942.1,282.9 943.1,459.5 944.0,459.5 945.0,459.5 945.9,459.5 946.9,459.5 947.9,459.5 948.8,459.5 949.8,373.4 950.8,459.5 951.7,342.8 952.7,459.5 953.6,356.3 954.6,459.5 955.6,370.4 956.5,459.5 957.5,401.3 958.4,459.5 959.4,401.2 960.4,459.5 961.3,401.7 962.3,459.5 963.2,459.5 964.2,459.5 965.2,459.5 966.1,459.5 967.1,404.1 968.1,459.5 969.0,401.7 970.0,459.5 970.9,411.3 971.9,165.5 972.9,405.4 973.8,459.5 974.8,417.5 975.7,459.5 976.7,411.5 977.7,459.5 978.6,459.5 979.6,459.5 980.6,459.5 981.5,459.5 982.5,459.5 983.4,413.3 984.4,459.5 985.4,224.4 986.3,459.5 987.3,459.5 988.2,459.5 989.2,459.5 990.2,459.5 991.1,459.5 992.1,459.5 993.0,459.5 994.0,459.5 995.0,459.5 995.9,459.5 996.9,459.5 997.9,459.5 998.8,459.5 999.8,459.5 1000.7,459.5 1001.7,459.5 1002.7,459.5 1003.6,459.5 1004.6,459.5 1005.5,459.5 1006.5,459.5 1007.5,459.5 1008.4,459.5 1009.4,459.5 1010.3,459.5 1011.3,459.5 1012.3,459.5 1013.2,459.5 1014.2,459.5 1015.2,459.5 1016.1,459.5 1017.1,417.0 1018.0,459.5 1019.0,405.9 1020.0,459.5 1020.9,413.4 1021.9,341.8 1022.8,459.5 1023.8,459.5 1024.8,459.5 1025.7,459.5 1026.7,459.5 1027.6,459.5 1028.6,459.5 1029.6,417.3 1030.5,459.5 1031.5,341.8 1032.5,459.5 1033.4,415.2 1034.4,459.5 1035.3,402.5 1036.3,459.5 1037.3,459.5 1038.2,459.5 1039.2,459.5 1040.1,459.5 1041.1,459.5 1042.1,459.5 1043.0,459.5 1044.0,459.5 1045.0,459.5 1045.9,459.5 1046.9,459.5 1047.8,400.7 1048.8,459.5 1049.8,386.7 1050.7,341.8 1051.7,383.4 1052.6,459.5 1053.6,387.8 1054.6,459.5 1055.5,400.6 1056.5,459.5 1057.4,459.5 1058.4,459.5 1059.4,459.5 1060.3,459.5 1061.3,459.5 1062.3,459.5 1063.2,459.5 1064.2,409.4 1065.1,459.5 1066.1,400.8 1067.1,459.5 1068.0,459.5 1069.0,459.5 1069.9,459.5 1070.9,459.5 1071.9,459.5 1072.8,459.5 1073.8,414.3 1074.7,459.5 1075.7,411.4 1076.7,459.5 1077.6,406.4 1078.6,459.5 1079.6,406.3 1080.5,459.5 1081.5,165.5 1082.4,459.5 1083.4,459.5 1084.4,459.5 1085.3,459.5 1086.3,459.5 1087.2,402.0 1088.2,459.5 1089.2,404.1 1090.1,459.5 1091.1,459.5 1092.0,459.5 1093.0,459.5 1094.0,459.5 1094.9,459.5 1095.9,459.5 1096.9,459.5 1097.8,459.5 1098.8,400.6 1099.7,459.5 1100.7,459.5 1101.7,459.5 1102.6,459.5 1103.6,459.5 1104.5,459.5 1105.5,459.5 1106.5,459.5 1107.4,459.5 1108.4,459.5 1109.4,459.5 1110.3,421.4 1111.3,459.5 1112.2,400.6 1113.2,459.5 1114.2,459.5 1115.1,459.5 1116.1,459.5 1117.0,459.5 1118.0,341.8 1119.0,459.5 1119.9,422.4 1120.9,459.5 1121.8,430.4 1122.8,459.5 1123.8,459.5 1124.7,459.5 1125.7,459.5 1126.7,459.5 1127.6,459.5 1128.6,459.5 1129.5,459.5 1130.5,459.5 1131.5,459.5 1132.4,282.9 1133.4,459.5 1134.3,459.5 1135.3,459.5 1136.3,341.8 1137.2,459.5 1138.2,459.5 1139.1,459.5 1140.1,459.5 1141.1,459.5 1142.0,459.5 1143.0,400.6 1144.0,459.5 1144.9,459.5 1145.9,459.5 1146.8,459.5 1147.8,459.5 1148.8,459.5 1149.7,459.5 1150.7,459.5 1151.6,459.5 1152.6,400.6 1153.6,459.5 1154.5,459.5 1155.5,459.5 1156.5,459.5 1157.4,459.5 1158.4,459.5 1159.3,459.5 1160.3,459.5 1161.3,459.5 1162.2,459.5 1163.2,459.5 1164.1,459.5 1165.1,459.5 1166.1,459.5 1167.0,459.5 1168.0,459.5 1168.9,459.5 1169.9,459.5 1170.9,459.5 1171.8,459.5 1172.8,459.5 1173.8,459.5 1174.7,459.5 1175.7,418.1 1176.6,459.5 1177.6,405.3 1178.6,459.5 1179.5,459.5 1180.5,459.5 1181.4,459.5 1182.4,402.3 1183.4,459.5 1184.3,409.4 1185.3,459.5 1186.2,459.5 1187.2,459.5 1188.2,459.5 1189.1,459.5 1190.1,459.5 1191.1,459.5 1192.0,165.5 1193.0,404.8 1193.9,459.5 1194.9,408.0 1195.9,459.5 1196.8,459.5 1197.8,459.5 1198.7,459.5 1199.7,459.5 1200.7,459.5 1201.6,459.5 1202.6,459.5 1203.5,459.5 1204.5,404.8 1205.5,459.5 1206.4,410.1 1207.4,459.5 1208.4,414.3 1209.3,459.5 1210.3,414.0 1211.2,459.5 1212.2,459.5 1213.2,459.5 1214.1,459.5 1215.1,459.5 1216.0,459.5 1217.0,459.5 1218.0,405.6 1218.9,459.5 1219.9,405.4 1220.9,459.5 1221.8,405.1 1222.8,341.8 1223.7,459.5 1224.7,459.5 1225.7,459.5 1226.6,459.5 1227.6,165.5 1228.5,408.4 1229.5,459.5 1230.5,403.9 1231.4,459.5 1232.4,459.5 1233.3,459.5 1234.3,459.5 1235.3,224.4 1236.2,459.5 1237.2,405.6 1238.2,459.5 1239.1,416.7 1240.1,282.9 1241.0,459.5 1242.0,459.5 1243.0,459.5 1243.9,459.5 1244.9,459.5 1245.8,401.8 1246.8,459.5 1247.8,405.1 1248.7,282.9 1249.7,405.0 1250.6,459.5 1251.6,459.5 1252.6,459.5 1253.5,459.5 1254.5,459.5 1255.5,459.5 1256.4,459.5 1257.4,459.5 1258.3,412.1 1259.3,459.5 1260.3,402.4 1261.2,459.5 1262.2,459.5 1263.1,459.5 1264.1,459.5 1265.1,459.5 1266.0,459.5 1267.0,459.5 1267.9,459.5 1268.9,402.4 1269.9,459.5 1270.8,409.0 1271.8,282.9 1272.8,459.5 1273.7,459.5 1274.7,459.5 1275.6,165.5 1276.6,416.8 1277.6,459.5 1278.5,401.3 1279.5,459.5 1280.4,405.8 1281.4,459.5 1282.4,459.5 1283.3,459.5 1284.3,459.5 1285.3,459.5 1286.2,459.5 1287.2,459.5 1288.1,459.5 1289.1,459.5 1290.1,459.5 1291.0,459.5 1292.0,459.5 1292.9,400.6 1293.9,459.5 1294.9,459.5 1295.8,459.5 1296.8,459.5 1297.7,459.5 1298.7,459.5 1299.7,459.5 1300.6,417.1 1301.6,459.5 1302.6,407.2 1303.5,459.5 1304.5,459.5 1305.4,459.5 1306.4,459.5 1307.4,459.5 1308.3,459.5 1309.3,282.9 1310.2,459.5 1311.2,414.3 1312.2,459.5 1313.1,412.4 1314.1,459.5 1315.0,459.5 1316.0,459.5 1317.0,459.5 1317.9,459.5 1318.9,411.9 1319.9,459.5 1320.8,413.2 1321.8,459.5 1322.7,459.5 1323.7,459.5 1324.7,459.5 1325.6,459.5 1326.6,459.5 1327.5,459.5 1328.5,459.5 1329.5,459.5 1330.4,459.5 1331.4,459.5 1332.3,459.5 1333.3,459.5 1334.3,459.5 1335.2,418.3 1336.2,459.5 1337.2,401.3 1338.1,459.5 1339.1,459.5 1340.0,459.5 1341.0,459.5 1342.0,459.5 1342.9,459.5 1343.9,415.1 1344.8,459.5 1345.8,407.9 1346.8,282.9 1347.7,459.5 1348.7,459.5 1349.7,459.5 1350.6,459.5 1351.6,459.5 1352.5,411.6 1353.5,459.5 1354.5,402.0 1355.4,459.5 1356.4,459.5 1357.3,459.5 1358.3,459.5 1359.3,459.5 1360.2,341.8 1361.2,459.5 1362.1,401.7 1363.1,459.5 1364.1,402.4 1365.0,459.5 1366.0,459.5 1367.0,282.9 1367.9,459.5 1368.9,459.5 1369.8,459.5 1370.8,459.5 1371.8,459.5 1372.7,106.7 1373.7,459.5 1374.6,411.9 1375.6,459.5 1376.6,402.2 1377.5,459.5 1378.5,403.5 1379.4,459.5 1380.4,400.6 1381.4,459.5 1382.3,459.5 1383.3,459.5 1384.3,459.5 1385.2,341.8 1386.2,418.1 1387.1,459.5 1388.1,412.4 1389.1,459.5 1390.0,408.0 1391.0,459.5 1391.9,459.5 1392.9,459.5 1393.9,459.5 1394.8,459.5 1395.8,413.8 1396.8,459.5 1397.7,416.2 1398.7,459.5 1399.6,407.9 1400.6,459.5 1401.6,459.5 1402.5,459.5 1403.5,459.5 1404.4,282.9 1405.4,459.5 1406.4,407.5 1407.3,459.5 1408.3,407.8 1409.2,459.5 1410.2,459.5 1411.2,459.5 1412.1,459.5 1413.1,416.6 1414.1,341.8 1415.0,408.1 1416.0,459.5 1416.9,415.1 1417.9,459.5 1418.9,459.5 1419.8,459.5 1420.8,459.5 1421.7,224.4 1422.7,459.5 1423.7,459.5 1424.6,459.5 1425.6,416.2 1426.5,459.5 1427.5,408.8 1428.5,459.5 1429.4,403.5 1430.4,459.5 1431.4,224.4 1432.3,459.5 1433.3,459.5 1434.2,459.5 1435.2,459.5 1436.2,459.5 1437.1,459.5 1438.1,459.5 1439.0,459.5 1440.0,411.9 1441.0,459.5 1441.9,416.7 1442.9,459.5 1443.8,459.5 1444.8,459.5 1445.8,459.5 1446.7,459.5 1447.7,224.4 1448.7,459.5 1449.6,407.2 1450.6,459.5 1451.5,409.5 1452.5,459.5 1453.5,403.2 1454.4,459.5 1455.4,459.5 1456.3,459.5 1457.3,459.5 1458.3,459.5 1459.2,459.5 1460.2,409.8 1461.2,459.5 1462.1,341.8 1463.1,459.5 1464.0,459.5 1465.0,459.5 1466.0,459.5 1466.9,459.5 1467.9,409.3 1468.8,459.5 1469.8,414.8 1470.8,459.5 1471.7,224.4 1472.7,459.5 1473.6,459.5 1474.6,459.5 1475.6,459.5 1476.5,459.5 1477.5,459.5 1478.5,459.5 1479.4,459.5 1480.4,459.5 1481.3,459.5 1482.3,459.5 1483.3,459.5 1484.2,459.5 1485.2,459.5 1486.1,459.5 1487.1,459.5 1488.1,459.5 1489.0,459.5 1490.0,459.5 1490.9,459.5 1491.9,459.5 1492.9,417.3 1493.8,459.5 1494.8,282.9 1495.8,459.5 1496.7,459.5 1497.7,459.5 1498.6,459.5 1499.6,459.5 1500.6,459.5 1501.5,459.5 1502.5,401.6 1503.4,459.5 1504.4,417.0 1505.4,459.5 1506.3,407.5 1507.3,459.5 1508.2,459.5 1509.2,341.8 1510.2,459.5 1511.1,459.5 1512.1,459.5 1513.1,459.5 1514.0,459.5 1515.0,415.2 1515.9,459.5 1516.9,403.5 1517.9,459.5 1518.8,414.5 1519.8,459.5 1520.7,404.5 1521.7,459.5 1522.7,459.5 1523.6,459.5 1524.6,341.8 1525.6,459.5 1526.5,459.5 1527.5,459.5 1528.4,459.5 1529.4,415.6 1530.4,459.5 1531.3,415.3 1532.3,459.5 1533.2,403.9 1534.2,400.6 1535.2,404.5 1536.1,459.5 1537.1,459.5 1538.0,459.5 1539.0,459.5 1540.0,459.5 1540.9,459.5 1541.9,341.8 1542.9,403.4 1543.8,459.5 1544.8,407.0 1545.7,459.5 1546.7,403.3 1547.7,459.5 1548.6,417.8 1549.6,459.5 1550.5,459.5 1551.5,459.5 1552.5,282.9 1553.4,459.5 1554.4,416.2 1555.3,459.5 1556.3,415.5 1557.3,282.9 1558.2,459.5 1559.2,459.5 1560.2,459.5 1561.1,415.4 1562.1,459.5 1563.0,402.7 1564.0,459.5 1565.0,411.2 1565.9,459.5 1566.9,410.3 1567.8,459.5 1568.8,459.5 1569.8,459.5 1570.7,459.5 1571.7,459.5 1572.6,459.5 1573.6,459.5 1574.6,459.5 1575.5,459.5 1576.5,459.5 1577.5,459.5 1578.4,459.5 1579.4,459.5 1580.3,459.5 1581.3,459.5 1582.3,459.5 1583.2,459.5 1584.2,459.5 1585.1,459.5 1586.1,459.5 1587.1,408.0 1588.0,459.5 1589.0,410.9 1590.0,459.5 1590.9,341.8 1591.9,459.5 1592.8,412.3 1593.8,459.5 1594.8,459.5 1595.7,459.5 1596.7,459.5 1597.6,459.5 1598.6,459.5 1599.6,459.5 1600.5,459.5 1601.5,282.9 1602.4,459.5 1603.4,401.0 1604.4,282.9 1605.3,411.6 1606.3,459.5 1607.3,409.3 1608.2,459.5 1609.2,459.5 1610.1,459.5 1611.1,459.5 1612.1,459.5 1613.0,414.1 1614.0,459.5 1614.9,400.6 1615.9,459.5 1616.9,408.7 1617.8,459.5 1618.8,459.5 1619.7,459.5 1620.7,459.5 1621.7,459.5 1622.6,459.5 1623.6,407.7 1624.6,459.5 1625.5,401.8 1626.5,459.5 1627.4,407.0 1628.4,341.8 1629.4,459.5 1630.3,459.5 1631.3,459.5 1632.2,459.5 1633.2,459.5 1634.2,459.5 1635.1,414.8 1636.1,459.5 1637.1,106.7 1638.0,459.5 1639.0,459.5 1639.9,459.5 1640.9,459.5 1641.9,411.9 1642.8,459.5 1643.8,402.1 1644.7,459.5 1645.7,459.5 1646.7,459.5 1647.6,341.8 1648.6,459.5 1649.5,459.5 1650.5,409.7 1651.5,459.5 1652.4,401.6 1653.4,459.5 1654.4,409.5 1655.3,459.5 1656.3,407.3 1657.2,400.6 1658.2,459.5 1659.2,459.5 1660.1,459.5 1661.1,459.5 1662.0,459.5 1663.0,415.8 1664.0,459.5 1664.9,418.2 1665.9,459.5 1666.8,341.8 1667.8,459.5 1668.8,459.5 1669.7,403.0 1670.7,459.5 1671.7,416.3 1672.6,459.5 1673.6,459.5 1674.5,459.5 1675.5,459.5 1676.5,459.5 1677.4,459.5 1678.4,459.5 1679.3,459.5 1680.3,459.5 1681.3,459.5 1682.2,459.5 1683.2,459.5 1684.1,459.5 1685.1,459.5 1686.1,459.5 1687.0,459.5 1688.0,459.5 1689.0,459.5 1689.9,459.5 1690.9,459.5 1691.8,459.5 1692.8,459.5 1693.8,459.5 1694.7,459.5 1695.7,459.5 1696.6,459.5 1697.6,459.5 1698.6,459.5 1699.5,459.5 1700.5,459.5 1701.5,459.5 1702.4,459.5 1703.4,459.5 1704.3,459.5 1705.3,459.5 1706.3,459.5 1707.2,459.5 1708.2,459.5 1709.1,459.5 1710.1,459.5 1711.1,459.5 1712.0,459.5 1713.0,459.5 1713.9,459.5 1714.9,459.5 1715.9,459.5 1716.8,459.5 1717.8,459.5 1718.8,459.5 1719.7,459.5 1720.7,459.5 1721.6,459.5 1722.6,459.5 1723.6,459.5 1724.5,459.5 1725.5,459.5 1726.4,459.5 1727.4,459.5 1728.4,459.5 1729.3,459.5 1730.3,459.5 1731.2,459.5 1732.2,459.5 1733.2,459.5 1734.1,459.5 1735.1,459.5 1736.1,459.5 1737.0,459.5 1738.0,459.5 1738.9,459.5 1739.9,459.5 1740.9,459.5 1741.8,459.5 1742.8,459.5 1743.7,459.5 1744.7,459.5 1745.7,459.5 1746.6,459.5 1747.6,459.5 1748.5,459.5 1749.5,459.5 1750.5,459.5 1751.4,459.5 1752.4,459.5 1753.4,459.5 1754.3,459.5 1755.3,459.5 1756.2,459.5 1757.2,459.5 1758.2,459.5 1759.1,459.5 1760.1,459.5 1761.0,459.5 1762.0,459.5 1763.0,459.5 1763.9,459.5 1764.9,459.5 1765.9,459.5 1766.8,459.5 1767.8,459.5 1768.7,459.5 1769.7,459.5 1770.7,459.5 1771.6,459.5 1772.6,459.5 1773.5,459.5 1774.5,459.5 1775.5,459.5 1776.4,459.5 1777.4,459.5 1778.3,459.5 1779.3,459.5 1780.3,459.5 1781.2,459.5 1782.2,459.5 1783.2,459.5 1784.1,459.5 1785.1,459.5 1786.0,459.5 1787.0,459.5 1788.0,459.5 1788.9,459.5 1789.9,459.5 1790.8,459.5 1791.8,459.5 1792.8,459.5 1793.7,459.5 1794.7,459.5 1795.6,459.5 1796.6,459.5 1797.6,459.5 1798.5,459.5 1799.5,459.5 1800.5,459.5 1801.4,459.5 1802.4,459.5 1803.3,459.5 1804.3,459.5 1805.3,459.5 1806.2,459.5 1807.2,459.5 1808.1,459.5 1809.1,459.5 1810.1,459.5 1811.0,459.5 1812.0,459.5 1812.9,459.5 1813.9,459.5 1814.9,459.5 1815.8,459.5 1816.8,459.5 1817.8,459.5 1818.7,459.5 1819.7,459.5 1820.6,459.5 1821.6,459.5 1822.6,459.5 1823.5,459.5 1824.5,459.5 1825.4,459.5 1826.4,459.5 1827.4,459.5 1828.3,459.5 1829.3,459.5 1830.3,459.5 1831.2,459.5 1832.2,459.5 1833.1,459.5 1834.1,459.5 1835.1,459.5 1836.0,459.5 1837.0,459.5 1837.9,459.5 1838.9,459.5 1839.9,459.5" fill="none" stroke="#dc000c" stroke-opacity="0.3" stroke-width="6.5" stroke-linejoin="round" stroke-linecap="butt"/>
<line x1="315.4" y1="478.8" x2="315.4" y2="27.5" stroke="#000" stroke-width="6.5" stroke-dasharray="24.5 27.4"/>
<line x1="639.3" y1="478.8" x2="639.3" y2="27.5" stroke="#000" stroke-width="6.5" stroke-dasharray="24.5 27.4"/>
<line x1="1294.9" y1="478.8" x2="1294.9" y2="27.5" stroke="#000" stroke-width="6.5" stroke-dasharray="24.5 27.4"/>
<line x1="1522.7" y1="478.8" x2="1522.7" y2="27.5" stroke="#000" stroke-width="6.5" stroke-dasharray="24.5 27.4"/>
<line x1="1839.9" y1="478.8" x2="1839.9" y2="27.5" stroke="#000" stroke-width="6.5" stroke-dasharray="24.5 27.4"/>
<rect x="240.3" y="27.5" width="1675.7" height="451.3" fill="none" stroke="#2a2a2a" stroke-width="1.8"/>
<line x1="231" y1="47.8" x2="240.3" y2="47.8" stroke="#333" stroke-width="2.2"/>
<text x="145.1" y="61.9" font-size="42.5" textLength="79.3" lengthAdjust="spacingAndGlyphs">1.00</text>
<line x1="231" y1="150.7" x2="240.3" y2="150.7" stroke="#333" stroke-width="2.2"/>
<text x="146.5" y="164.8" font-size="42.5" textLength="78.0" lengthAdjust="spacingAndGlyphs">0.75</text>
<line x1="231" y1="253.7" x2="240.3" y2="253.7" stroke="#333" stroke-width="2.2"/>
<text x="146.6" y="267.8" font-size="42.5" textLength="77.8" lengthAdjust="spacingAndGlyphs">0.50</text>
<line x1="231" y1="356.6" x2="240.3" y2="356.6" stroke="#333" stroke-width="2.2"/>
<text x="146.5" y="370.7" font-size="42.5" textLength="78.0" lengthAdjust="spacingAndGlyphs">0.25</text>
<line x1="231" y1="459.5" x2="240.3" y2="459.5" stroke="#333" stroke-width="2.2"/>
<text x="146.6" y="473.6" font-size="42.5" textLength="77.8" lengthAdjust="spacingAndGlyphs">0.00</text>
<line x1="315.4" y1="478.8" x2="315.4" y2="488" stroke="#333" stroke-width="2.2"/>
<text x="303.8" y="522.6" font-size="42.5" textLength="23.0" lengthAdjust="spacingAndGlyphs">0</text>
<line x1="639.3" y1="478.8" x2="639.3" y2="488" stroke="#333" stroke-width="2.2"/>
<text x="603.7" y="522.6" font-size="42.5" textLength="68.9" lengthAdjust="spacingAndGlyphs">337</text>
<line x1="1050.7" y1="478.8" x2="1050.7" y2="488" stroke="#333" stroke-width="2.2"/>
<text x="1014.3" y="522.6" font-size="42.5" textLength="68.1" lengthAdjust="spacingAndGlyphs">765</text>
<line x1="1294.9" y1="478.8" x2="1294.9" y2="488" stroke="#333" stroke-width="2.2"/>
<text x="1248.2" y="522.6" font-size="42.5" textLength="90.3" lengthAdjust="spacingAndGlyphs">1019</text>
<line x1="1522.7" y1="478.8" x2="1522.7" y2="488" stroke="#333" stroke-width="2.2"/>
<text x="1473.5" y="522.6" font-size="42.5" textLength="91.3" lengthAdjust="spacingAndGlyphs">1256</text>
<line x1="1839.9" y1="478.8" x2="1839.9" y2="488" stroke="#333" stroke-width="2.2"/>
<text x="1792.0" y="522.6" font-size="42.5" textLength="91.4" lengthAdjust="spacingAndGlyphs">1586</text>
<text transform="translate(122.3,445.7) rotate(-90)" x="0" y="0" font-size="42" textLength="393.9" lengthAdjust="spacingAndGlyphs">Stop codon frequency</text>
<text x="-0.4" y="22.2" font-size="39" font-weight="bold" textLength="21.0" lengthAdjust="spacingAndGlyphs">a</text>
<text x="473.8" y="63.9" font-size="31.5" textLength="79.3" lengthAdjust="spacingAndGlyphs">W155</text>
<text x="1330.0" y="89.5" font-size="31.5" textLength="85.9" lengthAdjust="spacingAndGlyphs">Y1100</text>
<text x="1594.0" y="89.5" font-size="31.5" textLength="88.8" lengthAdjust="spacingAndGlyphs">Y1375</text>
<text transform="translate(895.1,123.2) rotate(-90)" x="0" y="0" font-size="31.5" textLength="74.8" lengthAdjust="spacingAndGlyphs">W591</text>
<text transform="translate(982.3,123.2) rotate(-90)" x="0" y="0" font-size="31.5" textLength="78.6" lengthAdjust="spacingAndGlyphs">W683</text>
<text transform="translate(1095.4,147.3) rotate(-90)" x="0" y="0" font-size="31.5" textLength="72.9" lengthAdjust="spacingAndGlyphs">Y797</text>
<text transform="translate(1204.6,146.2) rotate(-90)" x="0" y="0" font-size="31.5" textLength="71.7" lengthAdjust="spacingAndGlyphs">C912</text>
<text transform="translate(1241.6,147.3) rotate(-90)" x="0" y="0" font-size="31.5" textLength="71.9" lengthAdjust="spacingAndGlyphs">Y949</text>
<text transform="translate(1286.8,147.3) rotate(-90)" x="0" y="0" font-size="31.5" textLength="71.6" lengthAdjust="spacingAndGlyphs">Y998</text>
<rect x="1939" y="34" width="70.5" height="11.5" fill="#1400fb"/>
<rect x="1939" y="87.3" width="70.5" height="10.8" fill="#ff1a00"/>
<text x="2020.5" y="49.2" font-size="35" textLength="144.5" lengthAdjust="spacingAndGlyphs">expected</text>
<text x="2019.8" y="103.2" font-size="35" textLength="145.8" lengthAdjust="spacingAndGlyphs">observed</text>
<line x1="1599.4" y1="571.3" x2="1633.6" y2="571.3" stroke="#000" stroke-width="3.6"/>
<line x1="1519.5" y1="589.3" x2="1661.8" y2="589.3" stroke="#000" stroke-width="3.6"/>
<line x1="1548.2" y1="595.2" x2="1596.2" y2="595.2" stroke="#000" stroke-width="3.6"/>
<line x1="1505.2" y1="630.5" x2="1562.4" y2="630.5" stroke="#000" stroke-width="3.6"/>
<line x1="1491.4" y1="636.1" x2="1553.4" y2="636.1" stroke="#000" stroke-width="3.6"/>
<line x1="1465.4" y1="641.9" x2="1531.8" y2="641.9" stroke="#000" stroke-width="3.6"/>
<line x1="1408.6" y1="660.0" x2="1553.6" y2="660.0" stroke="#000" stroke-width="3.6"/>
<line x1="1369.3" y1="665.6" x2="1586.3" y2="665.6" stroke="#000" stroke-width="3.6"/>
<line x1="1304.7" y1="671.7" x2="1643.0" y2="671.7" stroke="#000" stroke-width="3.6"/>
<line x1="1427.9" y1="689.5" x2="1503.3" y2="689.5" stroke="#000" stroke-width="3.6"/>
<line x1="1362.1" y1="707.1" x2="1537.4" y2="707.1" stroke="#000" stroke-width="3.6"/>
<line x1="1304.7" y1="713.3" x2="1586.1" y2="713.3" stroke="#000" stroke-width="3.6"/>
<line x1="1236.5" y1="742.7" x2="1624.2" y2="742.7" stroke="#000" stroke-width="3.6"/>
<line x1="1365.2" y1="748.3" x2="1490.9" y2="748.3" stroke="#000" stroke-width="3.6"/>
<line x1="1189.0" y1="766.0" x2="1653.7" y2="766.0" stroke="#000" stroke-width="3.6"/>
<line x1="1189.0" y1="784.0" x2="1642.9" y2="784.0" stroke="#000" stroke-width="3.6"/>
<line x1="1231.8" y1="795.5" x2="1548.2" y2="795.5" stroke="#000" stroke-width="3.6"/>
<line x1="1362.1" y1="801.7" x2="1419.5" y2="801.7" stroke="#000" stroke-width="3.6"/>
<line x1="1245.8" y1="807.3" x2="1520.3" y2="807.3" stroke="#000" stroke-width="3.6"/>
<line x1="1272.2" y1="831.1" x2="1445.9" y2="831.1" stroke="#000" stroke-width="3.6"/>
<line x1="1078.5" y1="848.5" x2="1611.0" y2="848.5" stroke="#000" stroke-width="3.6"/>
<line x1="1314.9" y1="860.9" x2="1369.2" y2="860.9" stroke="#000" stroke-width="3.6"/>
<line x1="1237.2" y1="866.8" x2="1401.7" y2="866.8" stroke="#000" stroke-width="3.6"/>
<line x1="1209.3" y1="878.5" x2="1409.0" y2="878.5" stroke="#000" stroke-width="3.6"/>
<line x1="981.9" y1="884.6" x2="1633.6" y2="884.6" stroke="#000" stroke-width="3.6"/>
<line x1="1224.7" y1="902.0" x2="1369.2" y2="902.0" stroke="#000" stroke-width="3.6"/>
<line x1="1075.9" y1="908.1" x2="1510.5" y2="908.1" stroke="#000" stroke-width="3.6"/>
<line x1="1224.7" y1="919.6" x2="1343.5" y2="919.6" stroke="#000" stroke-width="3.6"/>
<line x1="877.5" y1="943.3" x2="1662.1" y2="943.3" stroke="#000" stroke-width="3.6"/>
<line x1="1189.5" y1="954.7" x2="1330.8" y2="954.7" stroke="#000" stroke-width="3.6"/>
<line x1="880.8" y1="960.9" x2="1633.6" y2="960.9" stroke="#000" stroke-width="3.6"/>
<line x1="1133.0" y1="967.0" x2="1377.1" y2="967.0" stroke="#000" stroke-width="3.6"/>
<line x1="954.4" y1="973.0" x2="1549.0" y2="973.0" stroke="#000" stroke-width="3.6"/>
<line x1="1189.5" y1="978.4" x2="1311.0" y2="978.4" stroke="#000" stroke-width="3.6"/>
<line x1="1096.1" y1="984.6" x2="1396.2" y2="984.6" stroke="#000" stroke-width="3.6"/>
<line x1="1189.5" y1="990.5" x2="1271.0" y2="990.5" stroke="#000" stroke-width="3.6"/>
<line x1="1029.1" y1="996.2" x2="1430.0" y2="996.2" stroke="#000" stroke-width="3.6"/>
<line x1="959.2" y1="1037.2" x2="1417.5" y2="1037.2" stroke="#000" stroke-width="3.6"/>
<line x1="1129.7" y1="1043.4" x2="1246.1" y2="1043.4" stroke="#000" stroke-width="3.6"/>
<line x1="773.1" y1="1049.3" x2="1595.8" y2="1049.3" stroke="#000" stroke-width="3.6"/>
<line x1="1115.4" y1="1055.5" x2="1246.1" y2="1055.5" stroke="#000" stroke-width="3.6"/>
<line x1="1019.6" y1="1061.4" x2="1335.6" y2="1061.4" stroke="#000" stroke-width="3.6"/>
<line x1="718.6" y1="1066.9" x2="1633.5" y2="1066.9" stroke="#000" stroke-width="3.6"/>
<line x1="1079.0" y1="1073.1" x2="1268.8" y2="1073.1" stroke="#000" stroke-width="3.6"/>
<line x1="840.5" y1="1079.0" x2="1505.4" y2="1079.0" stroke="#000" stroke-width="3.6"/>
<line x1="724.1" y1="1084.9" x2="1614.0" y2="1084.9" stroke="#000" stroke-width="3.6"/>
<line x1="966.4" y1="1090.6" x2="1358.2" y2="1090.6" stroke="#000" stroke-width="3.6"/>
<line x1="775.7" y1="1097.0" x2="1530.3" y2="1097.0" stroke="#000" stroke-width="3.6"/>
<line x1="968.0" y1="1102.5" x2="1318.7" y2="1102.5" stroke="#000" stroke-width="3.6"/>
<line x1="865.8" y1="1108.7" x2="1401.0" y2="1108.7" stroke="#000" stroke-width="3.6"/>
<line x1="745.0" y1="1120.8" x2="1497.7" y2="1120.8" stroke="#000" stroke-width="3.6"/>
<line x1="983.4" y1="1126.2" x2="1258.2" y2="1126.2" stroke="#000" stroke-width="3.6"/>
<line x1="969.5" y1="1131.7" x2="1245.0" y2="1131.7" stroke="#000" stroke-width="3.6"/>
<line x1="948.2" y1="1137.7" x2="1251.6" y2="1137.7" stroke="#000" stroke-width="3.6"/>
<line x1="718.1" y1="1143.6" x2="1468.1" y2="1143.6" stroke="#000" stroke-width="3.6"/>
<line x1="707.6" y1="1149.2" x2="1468.0" y2="1149.2" stroke="#000" stroke-width="3.6"/>
<line x1="950.4" y1="1155.4" x2="1220.4" y2="1155.4" stroke="#000" stroke-width="3.6"/>
<line x1="823.6" y1="1161.5" x2="1346.1" y2="1161.5" stroke="#000" stroke-width="3.6"/>
<line x1="711.5" y1="1167.5" x2="1458.2" y2="1167.5" stroke="#000" stroke-width="3.6"/>
<line x1="789.3" y1="1185.0" x2="1362.6" y2="1185.0" stroke="#000" stroke-width="3.6"/>
<line x1="775.7" y1="1197.1" x2="1369.2" y2="1197.1" stroke="#000" stroke-width="3.6"/>
<line x1="843.4" y1="1202.6" x2="1296.7" y2="1202.6" stroke="#000" stroke-width="3.6"/>
<line x1="537.9" y1="1208.4" x2="1595.8" y2="1208.4" stroke="#000" stroke-width="3.6"/>
<line x1="718.1" y1="1214.7" x2="1411.6" y2="1214.7" stroke="#000" stroke-width="3.6"/>
<line x1="940.1" y1="1220.9" x2="1186.1" y2="1220.9" stroke="#000" stroke-width="3.6"/>
<line x1="753.7" y1="1226.4" x2="1363.3" y2="1226.4" stroke="#000" stroke-width="3.6"/>
<line x1="879.4" y1="1232.3" x2="1229.7" y2="1232.3" stroke="#000" stroke-width="3.6"/>
<line x1="952.2" y1="1243.7" x2="1150.1" y2="1243.7" stroke="#000" stroke-width="3.6"/>
<line x1="969.1" y1="1249.9" x2="1129.7" y2="1249.9" stroke="#000" stroke-width="3.6"/>
<line x1="709.8" y1="1267.2" x2="1380.8" y2="1267.2" stroke="#000" stroke-width="3.6"/>
<line x1="715.3" y1="1273.0" x2="1369.9" y2="1273.0" stroke="#000" stroke-width="3.6"/>
<line x1="709.8" y1="1278.9" x2="1369.2" y2="1278.9" stroke="#000" stroke-width="3.6"/>
<line x1="811.3" y1="1285.0" x2="1229.7" y2="1285.0" stroke="#000" stroke-width="3.6"/>
<line x1="894.4" y1="1291.2" x2="1140.7" y2="1291.2" stroke="#000" stroke-width="3.6"/>
<line x1="740.1" y1="1297.0" x2="1268.8" y2="1297.0" stroke="#000" stroke-width="3.6"/>
<line x1="968.4" y1="1303.2" x2="1028.9" y2="1303.2" stroke="#000" stroke-width="3.6"/>
<line x1="772.7" y1="1309.3" x2="1220.7" y2="1309.3" stroke="#000" stroke-width="3.6"/>
<line x1="852.0" y1="1314.6" x2="1115.7" y2="1314.6" stroke="#000" stroke-width="3.6"/>
<line x1="463.5" y1="1320.8" x2="1504.5" y2="1320.8" stroke="#000" stroke-width="3.6"/>
<line x1="486.4" y1="1355.9" x2="1448.2" y2="1355.9" stroke="#000" stroke-width="3.6"/>
<line x1="485.5" y1="1368.0" x2="1444.3" y2="1368.0" stroke="#000" stroke-width="3.6"/>
<line x1="739.1" y1="1373.9" x2="1176.8" y2="1373.9" stroke="#000" stroke-width="3.6"/>
<line x1="465.0" y1="1379.7" x2="1428.0" y2="1379.7" stroke="#000" stroke-width="3.6"/>
<line x1="526.6" y1="1391.5" x2="1343.5" y2="1391.5" stroke="#000" stroke-width="3.6"/>
<line x1="880.5" y1="1397.7" x2="982.7" y2="1397.7" stroke="#000" stroke-width="3.6"/>
<line x1="463.5" y1="1403.6" x2="1400.9" y2="1403.6" stroke="#000" stroke-width="3.6"/>
<line x1="440.2" y1="1415.3" x2="1389.2" y2="1415.3" stroke="#000" stroke-width="3.6"/>
<line x1="592.5" y1="1421.2" x2="1231.0" y2="1421.2" stroke="#000" stroke-width="3.6"/>
<line x1="795.8" y1="1427.3" x2="1020.1" y2="1427.3" stroke="#000" stroke-width="3.6"/>
<line x1="705.7" y1="1433.9" x2="1078.3" y2="1433.9" stroke="#000" stroke-width="3.6"/>
<line x1="705.7" y1="1439.0" x2="1078.3" y2="1439.0" stroke="#000" stroke-width="3.6"/>
<line x1="815.6" y1="1450.5" x2="939.4" y2="1450.5" stroke="#000" stroke-width="3.6"/>
<line x1="709.6" y1="1462.0" x2="1037.7" y2="1462.0" stroke="#000" stroke-width="3.6"/>
<line x1="843.2" y1="1468.1" x2="894.8" y2="1468.1" stroke="#000" stroke-width="3.6"/>
<line x1="494.7" y1="1480.0" x2="1231.0" y2="1480.0" stroke="#000" stroke-width="3.6"/>
<line x1="468.8" y1="1485.7" x2="1237.0" y2="1485.7" stroke="#000" stroke-width="3.6"/>
<line x1="754.0" y1="1497.6" x2="948.7" y2="1497.6" stroke="#000" stroke-width="3.6"/>
<line x1="741.3" y1="1503.7" x2="950.4" y2="1503.7" stroke="#000" stroke-width="3.6"/>
<line x1="778.6" y1="1515.8" x2="881.0" y2="1515.8" stroke="#000" stroke-width="3.6"/>
<line x1="537.6" y1="1521.7" x2="1109.1" y2="1521.7" stroke="#000" stroke-width="3.6"/>
<line x1="641.9" y1="1533.4" x2="973.9" y2="1533.4" stroke="#000" stroke-width="3.6"/>
<line x1="707.4" y1="1539.3" x2="894.8" y2="1539.3" stroke="#000" stroke-width="3.6"/>
<line x1="642.4" y1="1604.3" x2="831.4" y2="1604.3" stroke="#000" stroke-width="3.6"/>
<line x1="507.5" y1="1627.8" x2="705.7" y2="1627.8" stroke="#000" stroke-width="3.6"/>
<line x1="440.9" y1="1698.1" x2="518.9" y2="1698.1" stroke="#000" stroke-width="3.6"/>
<line x1="448.6" y1="1734.0" x2="462.9" y2="1734.0" stroke="#000" stroke-width="3.6"/>
<circle cx="1599.4" cy="571.3" r="5.4"/>
<circle cx="1519.5" cy="589.3" r="5.4"/>
<circle cx="1548.2" cy="595.2" r="5.4"/>
<circle cx="1505.2" cy="630.5" r="5.4"/>
<circle cx="1491.4" cy="636.1" r="5.4"/>
<circle cx="1465.4" cy="641.9" r="5.4"/>
<circle cx="1408.6" cy="660.0" r="5.4"/>
<circle cx="1369.3" cy="665.6" r="5.4"/>
<circle cx="1304.7" cy="671.7" r="5.4"/>
<circle cx="1427.9" cy="689.5" r="5.4"/>
<circle cx="1362.1" cy="707.1" r="5.4"/>
<circle cx="1304.7" cy="713.3" r="5.4"/>
<circle cx="1236.5" cy="742.7" r="5.4"/>
<circle cx="1365.2" cy="748.3" r="5.4"/>
<circle cx="1189.0" cy="766.0" r="5.4"/>
<circle cx="1189.0" cy="784.0" r="5.4"/>
<circle cx="1231.8" cy="795.5" r="5.4"/>
<circle cx="1362.1" cy="801.7" r="5.4"/>
<circle cx="1245.8" cy="807.3" r="5.4"/>
<circle cx="1272.2" cy="831.1" r="5.4"/>
<circle cx="1078.5" cy="848.5" r="5.4"/>
<circle cx="1314.9" cy="860.9" r="5.4"/>
<circle cx="1237.2" cy="866.8" r="5.4"/>
<circle cx="1209.3" cy="878.5" r="5.4"/>
<circle cx="981.9" cy="884.6" r="5.4"/>
<circle cx="1224.7" cy="902.0" r="5.4"/>
<circle cx="1075.9" cy="908.1" r="5.4"/>
<circle cx="1224.7" cy="919.6" r="5.4"/>
<circle cx="877.5" cy="943.3" r="5.4"/>
<circle cx="1189.5" cy="954.7" r="5.4"/>
<circle cx="880.8" cy="960.9" r="5.4"/>
<circle cx="1133.0" cy="967.0" r="5.4"/>
<circle cx="954.4" cy="973.0" r="5.4"/>
<circle cx="1189.5" cy="978.4" r="5.4"/>
<circle cx="1096.1" cy="984.6" r="5.4"/>
<circle cx="1189.5" cy="990.5" r="5.4"/>
<circle cx="1029.1" cy="996.2" r="5.4"/>
<circle cx="959.2" cy="1037.2" r="5.4"/>
<circle cx="1129.7" cy="1043.4" r="5.4"/>
<circle cx="773.1" cy="1049.3" r="5.4"/>
<circle cx="1115.4" cy="1055.5" r="5.4"/>
<circle cx="1019.6" cy="1061.4" r="5.4"/>
<circle cx="718.6" cy="1066.9" r="5.4"/>
<circle cx="1079.0" cy="1073.1" r="5.4"/>
<circle cx="840.5" cy="1079.0" r="5.4"/>
<circle cx="724.1" cy="1084.9" r="5.4"/>
<circle cx="966.4" cy="1090.6" r="5.4"/>
<circle cx="775.7" cy="1097.0" r="5.4"/>
<circle cx="968.0" cy="1102.5" r="5.4"/>
<circle cx="865.8" cy="1108.7" r="5.4"/>
<circle cx="745.0" cy="1120.8" r="5.4"/>
<circle cx="983.4" cy="1126.2" r="5.4"/>
<circle cx="969.5" cy="1131.7" r="5.4"/>
<circle cx="948.2" cy="1137.7" r="5.4"/>
<circle cx="718.1" cy="1143.6" r="5.4"/>
<circle cx="707.6" cy="1149.2" r="5.4"/>
<circle cx="950.4" cy="1155.4" r="5.4"/>
<circle cx="823.6" cy="1161.5" r="5.4"/>
<circle cx="711.5" cy="1167.5" r="5.4"/>
<circle cx="789.3" cy="1185.0" r="5.4"/>
<circle cx="775.7" cy="1197.1" r="5.4"/>
<circle cx="843.4" cy="1202.6" r="5.4"/>
<circle cx="537.9" cy="1208.4" r="5.4"/>
<circle cx="718.1" cy="1214.7" r="5.4"/>
<circle cx="940.1" cy="1220.9" r="5.4"/>
<circle cx="753.7" cy="1226.4" r="5.4"/>
<circle cx="879.4" cy="1232.3" r="5.4"/>
<circle cx="952.2" cy="1243.7" r="5.4"/>
<circle cx="969.1" cy="1249.9" r="5.4"/>
<circle cx="709.8" cy="1267.2" r="5.4"/>
<circle cx="715.3" cy="1273.0" r="5.4"/>
<circle cx="709.8" cy="1278.9" r="5.4"/>
<circle cx="811.3" cy="1285.0" r="5.4"/>
<circle cx="894.4" cy="1291.2" r="5.4"/>
<circle cx="740.1" cy="1297.0" r="5.4"/>
<circle cx="968.4" cy="1303.2" r="5.4"/>
<circle cx="772.7" cy="1309.3" r="5.4"/>
<circle cx="852.0" cy="1314.6" r="5.4"/>
<circle cx="463.5" cy="1320.8" r="5.4"/>
<circle cx="486.4" cy="1355.9" r="5.4"/>
<circle cx="485.5" cy="1368.0" r="5.4"/>
<circle cx="739.1" cy="1373.9" r="5.4"/>
<circle cx="465.0" cy="1379.7" r="5.4"/>
<circle cx="526.6" cy="1391.5" r="5.4"/>
<circle cx="880.5" cy="1397.7" r="5.4"/>
<circle cx="463.5" cy="1403.6" r="5.4"/>
<circle cx="440.2" cy="1415.3" r="5.4"/>
<circle cx="592.5" cy="1421.2" r="5.4"/>
<circle cx="795.8" cy="1427.3" r="5.4"/>
<circle cx="705.7" cy="1433.9" r="5.4"/>
<circle cx="705.7" cy="1439.0" r="5.4"/>
<circle cx="815.6" cy="1450.5" r="5.4"/>
<circle cx="709.6" cy="1462.0" r="5.4"/>
<circle cx="843.2" cy="1468.1" r="5.4"/>
<circle cx="494.7" cy="1480.0" r="5.4"/>
<circle cx="468.8" cy="1485.7" r="5.4"/>
<circle cx="754.0" cy="1497.6" r="5.4"/>
<circle cx="741.3" cy="1503.7" r="5.4"/>
<circle cx="778.6" cy="1515.8" r="5.4"/>
<circle cx="537.6" cy="1521.7" r="5.4"/>
<circle cx="641.9" cy="1533.4" r="5.4"/>
<circle cx="707.4" cy="1539.3" r="5.4"/>
<circle cx="642.4" cy="1604.3" r="5.4"/>
<circle cx="507.5" cy="1627.8" r="5.4"/>
<circle cx="440.9" cy="1698.1" r="5.4"/>
<circle cx="448.6" cy="1734.0" r="5.4"/>
<circle cx="1633.6" cy="571.3" r="5.4"/>
<circle cx="1661.8" cy="589.3" r="5.4"/>
<circle cx="1596.2" cy="595.2" r="5.4"/>
<circle cx="1562.4" cy="630.5" r="5.4"/>
<circle cx="1553.4" cy="636.1" r="5.4"/>
<circle cx="1531.8" cy="641.9" r="5.4"/>
<circle cx="1553.6" cy="660.0" r="5.4"/>
<circle cx="1586.3" cy="665.6" r="5.4"/>
<circle cx="1643.0" cy="671.7" r="5.4"/>
<circle cx="1503.3" cy="689.5" r="5.4"/>
<circle cx="1537.4" cy="707.1" r="5.4"/>
<circle cx="1586.1" cy="713.3" r="5.4"/>
<circle cx="1624.2" cy="742.7" r="5.4"/>
<circle cx="1490.9" cy="748.3" r="5.4"/>
<circle cx="1653.7" cy="766.0" r="5.4"/>
<circle cx="1642.9" cy="784.0" r="5.4"/>
<circle cx="1548.2" cy="795.5" r="5.4"/>
<circle cx="1419.5" cy="801.7" r="5.4"/>
<circle cx="1520.3" cy="807.3" r="5.4"/>
<circle cx="1445.9" cy="831.1" r="5.4"/>
<circle cx="1611.0" cy="848.5" r="5.4"/>
<circle cx="1369.2" cy="860.9" r="5.4"/>
<circle cx="1401.7" cy="866.8" r="5.4"/>
<circle cx="1409.0" cy="878.5" r="5.4"/>
<circle cx="1633.6" cy="884.6" r="5.4"/>
<circle cx="1369.2" cy="902.0" r="5.4"/>
<circle cx="1510.5" cy="908.1" r="5.4"/>
<circle cx="1343.5" cy="919.6" r="5.4"/>
<circle cx="1662.1" cy="943.3" r="5.4"/>
<circle cx="1330.8" cy="954.7" r="5.4"/>
<circle cx="1633.6" cy="960.9" r="5.4"/>
<circle cx="1377.1" cy="967.0" r="5.4"/>
<circle cx="1549.0" cy="973.0" r="5.4"/>
<circle cx="1311.0" cy="978.4" r="5.4"/>
<circle cx="1396.2" cy="984.6" r="5.4"/>
<circle cx="1271.0" cy="990.5" r="5.4"/>
<circle cx="1430.0" cy="996.2" r="5.4"/>
<circle cx="1417.5" cy="1037.2" r="5.4"/>
<circle cx="1246.1" cy="1043.4" r="5.4"/>
<circle cx="1595.8" cy="1049.3" r="5.4"/>
<circle cx="1246.1" cy="1055.5" r="5.4"/>
<circle cx="1335.6" cy="1061.4" r="5.4"/>
<circle cx="1633.5" cy="1066.9" r="5.4"/>
<circle cx="1268.8" cy="1073.1" r="5.4"/>
<circle cx="1505.4" cy="1079.0" r="5.4"/>
<circle cx="1614.0" cy="1084.9" r="5.4"/>
<circle cx="1358.2" cy="1090.6" r="5.4"/>
<circle cx="1530.3" cy="1097.0" r="5.4"/>
<circle cx="1318.7" cy="1102.5" r="5.4"/>
<circle cx="1401.0" cy="1108.7" r="5.4"/>
<circle cx="1497.7" cy="1120.8" r="5.4"/>
<circle cx="1258.2" cy="1126.2" r="5.4"/>
<circle cx="1245.0" cy="1131.7" r="5.4"/>
<circle cx="1251.6" cy="1137.7" r="5.4"/>
<circle cx="1468.1" cy="1143.6" r="5.4"/>
<circle cx="1468.0" cy="1149.2" r="5.4"/>
<circle cx="1220.4" cy="1155.4" r="5.4"/>
<circle cx="1346.1" cy="1161.5" r="5.4"/>
<circle cx="1458.2" cy="1167.5" r="5.4"/>
<circle cx="1362.6" cy="1185.0" r="5.4"/>
<circle cx="1369.2" cy="1197.1" r="5.4"/>
<circle cx="1296.7" cy="1202.6" r="5.4"/>
<circle cx="1595.8" cy="1208.4" r="5.4"/>
<circle cx="1411.6" cy="1214.7" r="5.4"/>
<circle cx="1186.1" cy="1220.9" r="5.4"/>
<circle cx="1363.3" cy="1226.4" r="5.4"/>
<circle cx="1229.7" cy="1232.3" r="5.4"/>
<circle cx="1150.1" cy="1243.7" r="5.4"/>
<circle cx="1129.7" cy="1249.9" r="5.4"/>
<circle cx="1380.8" cy="1267.2" r="5.4"/>
<circle cx="1369.9" cy="1273.0" r="5.4"/>
<circle cx="1369.2" cy="1278.9" r="5.4"/>
<circle cx="1229.7" cy="1285.0" r="5.4"/>
<circle cx="1140.7" cy="1291.2" r="5.4"/>
<circle cx="1268.8" cy="1297.0" r="5.4"/>
<circle cx="1028.9" cy="1303.2" r="5.4"/>
<circle cx="1220.7" cy="1309.3" r="5.4"/>
<circle cx="1115.7" cy="1314.6" r="5.4"/>
<circle cx="1504.5" cy="1320.8" r="5.4"/>
<circle cx="1448.2" cy="1355.9" r="5.4"/>
<circle cx="1444.3" cy="1368.0" r="5.4"/>
<circle cx="1176.8" cy="1373.9" r="5.4"/>
<circle cx="1428.0" cy="1379.7" r="5.4"/>
<circle cx="1343.5" cy="1391.5" r="5.4"/>
<circle cx="982.7" cy="1397.7" r="5.4"/>
<circle cx="1400.9" cy="1403.6" r="5.4"/>
<circle cx="1389.2" cy="1415.3" r="5.4"/>
<circle cx="1231.0" cy="1421.2" r="5.4"/>
<circle cx="1020.1" cy="1427.3" r="5.4"/>
<circle cx="1078.3" cy="1433.9" r="5.4"/>
<circle cx="1078.3" cy="1439.0" r="5.4"/>
<circle cx="939.4" cy="1450.5" r="5.4"/>
<circle cx="1037.7" cy="1462.0" r="5.4"/>
<circle cx="894.8" cy="1468.1" r="5.4"/>
<circle cx="1231.0" cy="1480.0" r="5.4"/>
<circle cx="1237.0" cy="1485.7" r="5.4"/>
<circle cx="948.7" cy="1497.6" r="5.4"/>
<circle cx="950.4" cy="1503.7" r="5.4"/>
<circle cx="881.0" cy="1515.8" r="5.4"/>
<circle cx="1109.1" cy="1521.7" r="5.4"/>
<circle cx="973.9" cy="1533.4" r="5.4"/>
<circle cx="894.8" cy="1539.3" r="5.4"/>
<circle cx="831.4" cy="1604.3" r="5.4"/>
<circle cx="705.7" cy="1627.8" r="5.4"/>
<circle cx="518.9" cy="1698.1" r="5.4"/>
<circle cx="462.9" cy="1734.0" r="5.4"/>
<circle cx="1635.8" cy="548.5" r="5.4"/>
<circle cx="1635.3" cy="553.0" r="5.4"/>
<circle cx="1634.9" cy="557.5" r="5.4"/>
<circle cx="1634.7" cy="562.0" r="5.4"/>
<circle cx="1623.9" cy="565.2" r="5.4"/>
<circle cx="1599.4" cy="577.5" r="5.4"/>
<circle cx="1599.4" cy="581.5" r="5.4"/>
<circle cx="1599.4" cy="585.5" r="5.4"/>
<circle cx="1564.6" cy="601.3" r="5.4"/>
<circle cx="1553.3" cy="607.0" r="5.4"/>
<circle cx="1539.7" cy="611.0" r="5.4"/>
<circle cx="1539.2" cy="615.0" r="5.4"/>
<circle cx="1538.7" cy="619.0" r="5.4"/>
<circle cx="1538.3" cy="623.0" r="5.4"/>
<circle cx="1537.9" cy="627.0" r="5.4"/>
<circle cx="1492.5" cy="645.0" r="5.4"/>
<circle cx="1492.5" cy="649.0" r="5.4"/>
<circle cx="1492.5" cy="653.0" r="5.4"/>
<circle cx="1467.6" cy="677.0" r="5.4"/>
<circle cx="1467.6" cy="681.4" r="5.4"/>
<circle cx="1467.6" cy="685.8" r="5.4"/>
<circle cx="1458.3" cy="695.0" r="5.4"/>
<circle cx="1444.3" cy="718.0" r="5.4"/>
<circle cx="1444.3" cy="722.5" r="5.4"/>
<circle cx="1444.3" cy="727.0" r="5.4"/>
<circle cx="1444.3" cy="732.0" r="5.4"/>
<circle cx="1431.9" cy="736.5" r="5.4"/>
<circle cx="1427.3" cy="753.6" r="5.4"/>
<circle cx="1427.3" cy="757.5" r="5.4"/>
<circle cx="1427.3" cy="761.3" r="5.4"/>
<circle cx="1416.4" cy="770.7" r="5.4"/>
<circle cx="1416.4" cy="775.0" r="5.4"/>
<circle cx="1416.4" cy="779.5" r="5.4"/>
<circle cx="1411.8" cy="789.3" r="5.4"/>
<circle cx="1380.7" cy="813.5" r="5.4"/>
<circle cx="1363.7" cy="818.7" r="5.4"/>
<circle cx="1363.7" cy="822.5" r="5.4"/>
<circle cx="1363.7" cy="826.5" r="5.4"/>
<circle cx="1357.5" cy="837.3" r="5.4"/>
<circle cx="1348.2" cy="842.6" r="5.4"/>
<circle cx="1343.5" cy="855.0" r="5.4"/>
<circle cx="1316.0" cy="872.5" r="5.4"/>
<circle cx="1305.0" cy="889.4" r="5.4"/>
<circle cx="1305.0" cy="893.0" r="5.4"/>
<circle cx="1305.0" cy="896.5" r="5.4"/>
<circle cx="1289.7" cy="913.6" r="5.4"/>
<circle cx="1271.0" cy="924.6" r="5.4"/>
<circle cx="1271.0" cy="928.6" r="5.4"/>
<circle cx="1271.0" cy="932.6" r="5.4"/>
<circle cx="1271.0" cy="936.7" r="5.4"/>
<circle cx="1268.8" cy="949.2" r="5.4"/>
<circle cx="1189.5" cy="982.5" r="5.4"/>
<circle cx="1189.5" cy="986.5" r="5.4"/>
<circle cx="1233.9" cy="1002.0" r="5.4"/>
<circle cx="1227.3" cy="1004.0" r="5.4"/>
<circle cx="1225.0" cy="1009.0" r="5.4"/>
<circle cx="1225.0" cy="1014.0" r="5.4"/>
<circle cx="1217.6" cy="1019.8" r="5.4"/>
<circle cx="1206.6" cy="1025.2" r="5.4"/>
<circle cx="1197.9" cy="1030.6" r="5.4"/>
<circle cx="1129.7" cy="1114.2" r="5.4"/>
<circle cx="1084.4" cy="1173.0" r="5.4"/>
<circle cx="1077.9" cy="1179.1" r="5.4"/>
<circle cx="1072.4" cy="1189.0" r="5.4"/>
<circle cx="1069.0" cy="1191.0" r="5.4"/>
<circle cx="1050.4" cy="1237.8" r="5.4"/>
<circle cx="1048.2" cy="1255.4" r="5.4"/>
<circle cx="1048.2" cy="1259.0" r="5.4"/>
<circle cx="1048.2" cy="1262.0" r="5.4"/>
<circle cx="983.8" cy="1326.0" r="5.4"/>
<circle cx="983.0" cy="1331.0" r="5.4"/>
<circle cx="982.0" cy="1336.0" r="5.4"/>
<circle cx="980.0" cy="1341.0" r="5.4"/>
<circle cx="974.0" cy="1349.6" r="5.4"/>
<circle cx="966.3" cy="1361.5" r="5.4"/>
<circle cx="939.9" cy="1385.6" r="5.4"/>
<circle cx="921.2" cy="1409.8" r="5.4"/>
<circle cx="881.0" cy="1443.8" r="5.4"/>
<circle cx="877.2" cy="1456.5" r="5.4"/>
<circle cx="865.2" cy="1474.1" r="5.4"/>
<circle cx="852.0" cy="1492.3" r="5.4"/>
<circle cx="832.4" cy="1509.9" r="5.4"/>
<circle cx="811.2" cy="1527.5" r="5.4"/>
<circle cx="800.2" cy="1545.5" r="5.4"/>
<circle cx="800.2" cy="1549.0" r="5.4"/>
<circle cx="800.2" cy="1552.5" r="5.4"/>
<circle cx="793.6" cy="1562.0" r="5.4"/>
<circle cx="772.7" cy="1567.5" r="5.4"/>
<circle cx="772.7" cy="1571.0" r="5.4"/>
<circle cx="772.7" cy="1574.5" r="5.4"/>
<circle cx="766.1" cy="1580.2" r="5.4"/>
<circle cx="744.8" cy="1585.0" r="5.4"/>
<circle cx="744.8" cy="1588.5" r="5.4"/>
<circle cx="744.8" cy="1592.0" r="5.4"/>
<circle cx="738.6" cy="1597.5" r="5.4"/>
<circle cx="720.0" cy="1609.8" r="5.4"/>
<circle cx="718.5" cy="1613.0" r="5.4"/>
<circle cx="717.8" cy="1616.4" r="5.4"/>
<circle cx="716.7" cy="1620.8" r="5.4"/>
<circle cx="538.7" cy="1632.9" r="5.4"/>
<circle cx="537.6" cy="1637.0" r="5.4"/>
<circle cx="537.6" cy="1640.0" r="5.4"/>
<circle cx="526.6" cy="1644.0" r="5.4"/>
<circle cx="526.6" cy="1648.0" r="5.4"/>
<circle cx="526.6" cy="1652.0" r="5.4"/>
<circle cx="526.6" cy="1656.0" r="5.4"/>
<circle cx="518.9" cy="1663.6" r="5.4"/>
<circle cx="507.9" cy="1669.1" r="5.4"/>
<circle cx="493.6" cy="1674.6" r="5.4"/>
<circle cx="485.9" cy="1680.1" r="5.4"/>
<circle cx="479.3" cy="1686.7" r="5.4"/>
<circle cx="479.3" cy="1692.2" r="5.4"/>
<circle cx="469.4" cy="1704.3" r="5.4"/>
<circle cx="462.9" cy="1709.8" r="5.4"/>
<circle cx="462.9" cy="1714.0" r="5.4"/>
<circle cx="462.9" cy="1718.0" r="5.4"/>
<circle cx="462.9" cy="1722.0" r="5.4"/>
<circle cx="462.9" cy="1726.0" r="5.4"/>
<circle cx="462.9" cy="1730.0" r="5.4"/>
<circle cx="448.6" cy="1739.4" r="5.4"/>
<circle cx="442.0" cy="1746.0" r="5.4"/>
<line x1="314.6" y1="1747.2" x2="314.6" y2="545.0" stroke="#000" stroke-width="6.5" stroke-dasharray="24.4 25.4"/>
<line x1="637.7" y1="1747.2" x2="637.7" y2="545.0" stroke="#000" stroke-width="6.5" stroke-dasharray="24.4 25.4"/>
<line x1="1048.1" y1="1747.2" x2="1048.1" y2="545.0" stroke="#000" stroke-width="6.5" stroke-dasharray="24.4 25.4"/>
<line x1="1291.6" y1="1747.2" x2="1291.6" y2="545.0" stroke="#000" stroke-width="6.5" stroke-dasharray="24.4 25.4"/>
<line x1="1518.9" y1="1747.2" x2="1518.9" y2="545.0" stroke="#000" stroke-width="6.5" stroke-dasharray="24.4 25.4"/>
<line x1="1835.3" y1="1747.2" x2="1835.3" y2="545.0" stroke="#000" stroke-width="6.5" stroke-dasharray="24.4 25.4"/>
<line x1="365.5" y1="543.6" x2="365.5" y2="1748" stroke="#1400ee" stroke-width="3.9" stroke-dasharray="22 9.13"/>
<line x1="437.2" y1="543.6" x2="437.2" y2="1748" stroke="#1400ee" stroke-width="3.9" stroke-dasharray="22 9.13"/>
<line x1="541.5" y1="543.6" x2="541.5" y2="1748" stroke="#1400ee" stroke-width="3.9" stroke-dasharray="22 9.13"/>
<line x1="688.3" y1="543.6" x2="688.3" y2="1748" stroke="#1400ee" stroke-width="3.9" stroke-dasharray="22 9.13"/>
<line x1="752.2" y1="543.6" x2="752.2" y2="1748" stroke="#1400ee" stroke-width="3.9" stroke-dasharray="22 9.13"/>
<line x1="801.6" y1="543.6" x2="801.6" y2="1748" stroke="#1400ee" stroke-width="3.9" stroke-dasharray="22 9.13"/>
<line x1="843.0" y1="543.6" x2="843.0" y2="1748" stroke="#1400ee" stroke-width="3.9" stroke-dasharray="22 9.13"/>
<line x1="885.7" y1="543.6" x2="885.7" y2="1748" stroke="#1400ee" stroke-width="3.9" stroke-dasharray="22 9.13"/>
<line x1="929.4" y1="543.6" x2="929.4" y2="1748" stroke="#1400ee" stroke-width="3.9" stroke-dasharray="22 9.13"/>
<line x1="973.0" y1="543.6" x2="973.0" y2="1748" stroke="#1400ee" stroke-width="3.9" stroke-dasharray="22 9.13"/>
<line x1="1014.6" y1="543.6" x2="1014.6" y2="1748" stroke="#1400ee" stroke-width="3.9" stroke-dasharray="22 9.13"/>
<line x1="1303.8" y1="543.6" x2="1303.8" y2="1748" stroke="#1400ee" stroke-width="3.9" stroke-dasharray="22 9.13"/>
<line x1="1401.3" y1="543.6" x2="1401.3" y2="1748" stroke="#1400ee" stroke-width="3.9" stroke-dasharray="22 9.13"/>
<line x1="1415.9" y1="543.6" x2="1415.9" y2="1748" stroke="#1400ee" stroke-width="3.9" stroke-dasharray="22 9.13"/>
<line x1="1433.9" y1="543.6" x2="1433.9" y2="1748" stroke="#1400ee" stroke-width="3.9" stroke-dasharray="22 9.13"/>
<line x1="1451.8" y1="543.6" x2="1451.8" y2="1748" stroke="#1400ee" stroke-width="3.9" stroke-dasharray="22 9.13"/>
<line x1="1539.2" y1="543.6" x2="1539.2" y2="1748" stroke="#1400ee" stroke-width="3.9" stroke-dasharray="22 9.13"/>
<line x1="1628.9" y1="543.6" x2="1628.9" y2="1748" stroke="#1400ee" stroke-width="3.9" stroke-dasharray="22 9.13"/>
<line x1="1649.1" y1="543.6" x2="1649.1" y2="1748" stroke="#1400ee" stroke-width="3.9" stroke-dasharray="22 9.13"/>
<line x1="1738.8" y1="543.6" x2="1738.8" y2="1748" stroke="#1400ee" stroke-width="3.9" stroke-dasharray="22 9.13"/>
<line x1="1760.8" y1="543.6" x2="1760.8" y2="1748" stroke="#1400ee" stroke-width="3.9" stroke-dasharray="22 9.13"/>
<line x1="1815.0" y1="543.6" x2="1815.0" y2="1748" stroke="#1400ee" stroke-width="3.9" stroke-dasharray="22 9.13"/>
<line x1="238.5" y1="545.0" x2="238.5" y2="1751" stroke="#000" stroke-width="2.3"/>
<path d="M230.1 1745.90H237.5 M230.1 1739.98H237.5 M230.1 1734.06H237.5 M230.1 1728.14H237.5 M230.1 1722.22H237.5 M230.1 1716.30H237.5 M230.1 1710.38H237.5 M230.1 1704.46H237.5 M230.1 1698.54H237.5 M230.1 1692.62H237.5 M230.1 1686.70H237.5 M230.1 1680.78H237.5 M230.1 1674.86H237.5 M230.1 1668.94H237.5 M230.1 1663.02H237.5 M230.1 1657.10H237.5 M230.1 1651.18H237.5 M230.1 1645.26H237.5 M230.1 1639.34H237.5 M230.1 1633.42H237.5 M230.1 1627.50H237.5 M230.1 1621.58H237.5 M230.1 1615.66H237.5 M230.1 1609.74H237.5 M230.1 1603.82H237.5 M230.1 1597.90H237.5 M230.1 1591.98H237.5 M230.1 1586.06H237.5 M230.1 1580.14H237.5 M230.1 1574.22H237.5 M230.1 1568.30H237.5 M230.1 1562.38H237.5 M230.1 1556.46H237.5 M230.1 1550.54H237.5 M230.1 1544.62H237.5 M230.1 1538.70H237.5 M230.1 1532.78H237.5 M230.1 1526.86H237.5 M230.1 1520.94H237.5 M230.1 1515.02H237.5 M230.1 1509.10H237.5 M230.1 1503.18H237.5 M230.1 1497.26H237.5 M230.1 1491.34H237.5 M230.1 1485.42H237.5 M230.1 1479.50H237.5 M230.1 1473.58H237.5 M230.1 1467.66H237.5 M230.1 1461.74H237.5 M230.1 1455.82H237.5 M230.1 1449.90H237.5 M230.1 1443.98H237.5 M230.1 1438.06H237.5 M230.1 1432.14H237.5 M230.1 1426.22H237.5 M230.1 1420.30H237.5 M230.1 1414.38H237.5 M230.1 1408.46H237.5 M230.1 1402.54H237.5 M230.1 1396.62H237.5 M230.1 1390.70H237.5 M230.1 1384.78H237.5 M230.1 1378.86H237.5 M230.1 1372.94H237.5 M230.1 1367.02H237.5 M230.1 1361.10H237.5 M230.1 1355.18H237.5 M230.1 1349.26H237.5 M230.1 1343.34H237.5 M230.1 1337.42H237.5 M230.1 1331.50H237.5 M230.1 1325.58H237.5 M230.1 1319.66H237.5 M230.1 1313.74H237.5 M230.1 1307.82H237.5 M230.1 1301.90H237.5 M230.1 1295.98H237.5 M230.1 1290.06H237.5 M230.1 1284.14H237.5 M230.1 1278.22H237.5 M230.1 1272.30H237.5 M230.1 1266.38H237.5 M230.1 1260.46H237.5 M230.1 1254.54H237.5 M230.1 1248.62H237.5 M230.1 1242.70H237.5 M230.1 1236.78H237.5 M230.1 1230.86H237.5 M230.1 1224.94H237.5 M230.1 1219.02H237.5 M230.1 1213.10H237.5 M230.1 1207.18H237.5 M230.1 1201.26H237.5 M230.1 1195.34H237.5 M230.1 1189.42H237.5 M230.1 1183.50H237.5 M230.1 1177.58H237.5 M230.1 1171.66H237.5 M230.1 1165.74H237.5 M230.1 1159.82H237.5 M230.1 1153.90H237.5 M230.1 1147.98H237.5 M230.1 1142.06H237.5 M230.1 1136.14H237.5 M230.1 1130.22H237.5 M230.1 1124.30H237.5 M230.1 1118.38H237.5 M230.1 1112.46H237.5 M230.1 1106.54H237.5 M230.1 1100.62H237.5 M230.1 1094.70H237.5 M230.1 1088.78H237.5 M230.1 1082.86H237.5 M230.1 1076.94H237.5 M230.1 1071.02H237.5 M230.1 1065.10H237.5 M230.1 1059.18H237.5 M230.1 1053.26H237.5 M230.1 1047.34H237.5 M230.1 1041.42H237.5 M230.1 1035.50H237.5 M230.1 1029.58H237.5 M230.1 1023.66H237.5 M230.1 1017.74H237.5 M230.1 1011.82H237.5 M230.1 1005.90H237.5 M230.1 999.98H237.5 M230.1 994.06H237.5 M230.1 988.14H237.5 M230.1 982.22H237.5 M230.1 976.30H237.5 M230.1 970.38H237.5 M230.1 964.46H237.5 M230.1 958.54H237.5 M230.1 952.62H237.5 M230.1 946.70H237.5 M230.1 940.78H237.5 M230.1 934.86H237.5 M230.1 928.94H237.5 M230.1 923.02H237.5 M230.1 917.10H237.5 M230.1 911.18H237.5 M230.1 905.26H237.5 M230.1 899.34H237.5 M230.1 893.42H237.5 M230.1 887.50H237.5 M230.1 881.58H237.5 M230.1 875.66H237.5 M230.1 869.74H237.5 M230.1 863.82H237.5 M230.1 857.90H237.5 M230.1 851.98H237.5 M230.1 846.06H237.5 M230.1 840.14H237.5 M230.1 834.22H237.5 M230.1 828.30H237.5 M230.1 822.38H237.5 M230.1 816.46H237.5 M230.1 810.54H237.5 M230.1 804.62H237.5 M230.1 798.70H237.5 M230.1 792.78H237.5 M230.1 786.86H237.5 M230.1 780.94H237.5 M230.1 775.02H237.5 M230.1 769.10H237.5 M230.1 763.18H237.5 M230.1 757.26H237.5 M230.1 751.34H237.5 M230.1 745.42H237.5 M230.1 739.50H237.5 M230.1 733.58H237.5 M230.1 727.66H237.5 M230.1 721.74H237.5 M230.1 715.82H237.5 M230.1 709.90H237.5 M230.1 703.98H237.5 M230.1 698.06H237.5 M230.1 692.14H237.5 M230.1 686.22H237.5 M230.1 680.30H237.5 M230.1 674.38H237.5 M230.1 668.46H237.5 M230.1 662.54H237.5 M230.1 656.62H237.5 M230.1 650.70H237.5 M230.1 644.78H237.5 M230.1 638.86H237.5 M230.1 632.94H237.5 M230.1 627.02H237.5 M230.1 621.10H237.5 M230.1 615.18H237.5 M230.1 609.26H237.5 M230.1 603.34H237.5 M230.1 597.42H237.5 M230.1 591.50H237.5 M230.1 585.58H237.5 M230.1 579.66H237.5 M230.1 573.74H237.5 M230.1 567.82H237.5 M230.1 561.90H237.5 M230.1 555.98H237.5 M230.1 550.06H237.5" stroke="#111" stroke-width="2.1"/>
<line x1="237" y1="1749.4" x2="1911.5" y2="1749.4" stroke="#000" stroke-width="4.7"/>
<line x1="314.6" y1="1751" x2="314.6" y2="1757.6" stroke="#444" stroke-width="3"/>
<text x="303.8" y="1799.2" font-size="42.5" textLength="23.0" lengthAdjust="spacingAndGlyphs">0</text>
<line x1="637.7" y1="1751" x2="637.7" y2="1757.6" stroke="#444" stroke-width="3"/>
<text x="603.7" y="1799.2" font-size="42.5" textLength="68.9" lengthAdjust="spacingAndGlyphs">337</text>
<line x1="1048.1" y1="1751" x2="1048.1" y2="1757.6" stroke="#444" stroke-width="3"/>
<text x="1014.3" y="1799.2" font-size="42.5" textLength="68.1" lengthAdjust="spacingAndGlyphs">765</text>
<line x1="1291.6" y1="1751" x2="1291.6" y2="1757.6" stroke="#444" stroke-width="3"/>
<text x="1248.2" y="1799.2" font-size="42.5" textLength="90.3" lengthAdjust="spacingAndGlyphs">1019</text>
<line x1="1518.9" y1="1751" x2="1518.9" y2="1757.6" stroke="#444" stroke-width="3"/>
<text x="1473.5" y="1799.2" font-size="42.5" textLength="91.3" lengthAdjust="spacingAndGlyphs">1256</text>
<line x1="1835.3" y1="1751" x2="1835.3" y2="1757.6" stroke="#444" stroke-width="3"/>
<text x="1792.0" y="1799.2" font-size="42.5" textLength="91.4" lengthAdjust="spacingAndGlyphs">1586</text>
<text transform="translate(208.5,1294.8) rotate(-90)" x="0" y="0" font-size="40" textLength="238.8" lengthAdjust="spacingAndGlyphs">Tumour clone</text>
<text transform="translate(208.5,1044.3) rotate(-90)" x="0" y="0" font-size="27" textLength="107.8" lengthAdjust="spacingAndGlyphs">(n=315)</text>
<text x="145.1" y="561.9" font-size="40" font-weight="bold" textLength="25.8" lengthAdjust="spacingAndGlyphs">b</text>
<text x="151.1" y="1841.9" font-size="42" textLength="71.6" lengthAdjust="spacingAndGlyphs">Bin:</text>
<text x="465.2" y="1838.2" font-size="42" textLength="27.2" lengthAdjust="spacingAndGlyphs">A</text>
<text x="849.0" y="1838.2" font-size="42" textLength="27.2" lengthAdjust="spacingAndGlyphs">B</text>
<text x="1159.6" y="1838.2" font-size="42" textLength="29.4" lengthAdjust="spacingAndGlyphs">C</text>
<text x="1397.6" y="1838.2" font-size="42" textLength="29.4" lengthAdjust="spacingAndGlyphs">D</text>
<text x="1673.6" y="1838.2" font-size="42" textLength="27.2" lengthAdjust="spacingAndGlyphs">E</text>
<text x="137.0" y="1896.4" font-size="42" textLength="83.0" lengthAdjust="spacingAndGlyphs">APC</text>
<text x="111.7" y="1932.9" font-size="41" textLength="144.9" lengthAdjust="spacingAndGlyphs">domain:</text>
<rect x="318.7" y="1873.2" width="50.2" height="64.8" fill="#5fd4c6"/>
<rect x="436" y="1873.2" width="106.0" height="64.8" fill="#45f218"/>
<rect x="636.7" y="1873.2" width="51.2" height="64.8" fill="#58b3f8"/>
<rect x="690" y="1873.2" width="62.5" height="64.8" fill="#e96f6a"/>
<rect x="754.6" y="1873.2" width="46.0" height="64.8" fill="#58b3f8"/>
<rect x="802.7" y="1873.2" width="40.8" height="64.8" fill="#58b3f8"/>
<rect x="845.6" y="1873.2" width="41.3" height="64.8" fill="#58b3f8"/>
<rect x="889" y="1873.2" width="40.8" height="64.8" fill="#58b3f8"/>
<rect x="931.9" y="1873.2" width="40.8" height="64.8" fill="#58b3f8"/>
<rect x="974.8" y="1873.2" width="40.8" height="64.8" fill="#58b3f8"/>
<rect x="1291.5" y="1873.2" width="15.4" height="64.8" fill="#ff2212"/>
<rect x="1400.7" y="1873.2" width="14.3" height="64.8" fill="#ff2212"/>
<rect x="1416.7" y="1873.2" width="19.3" height="64.8" fill="#ff2212"/>
<rect x="1438.3" y="1873.2" width="14.7" height="64.8" fill="#ff2212"/>
<rect x="1523" y="1873.2" width="22.8" height="64.8" fill="#6b8c23"/>
<rect x="1629.4" y="1873.2" width="22.8" height="64.8" fill="#6b8c23"/>
<rect x="1740.9" y="1873.2" width="22.7" height="64.8" fill="#6b8c23"/>
<rect x="1817" y="1873.2" width="21.7" height="64.8" fill="#f76ee9"/>
<rect x="1523" y="1958.8" width="315.7" height="7.4" fill="#000"/>
<text x="1641.6" y="2004.3" font-size="41" textLength="96.6" lengthAdjust="spacingAndGlyphs">MCR</text>
<rect x="333.3" y="2043.6" width="1485.1" height="82.9" fill="none" stroke="#000" stroke-width="4.6"/>
<rect x="344.5" y="2056" width="20.2" height="56.2" fill="#5fd4c6"/>
<rect x="564" y="2056" width="21.0" height="56.2" fill="#45f218"/>
<rect x="771.6" y="2056" width="20.1" height="56.2" fill="#58b3f8"/>
<rect x="953" y="2056" width="19.7" height="56.2" fill="#e96f6a"/>
<rect x="1153.3" y="2056" width="20.5" height="56.2" fill="#ff2212"/>
<rect x="1383.7" y="2056" width="19.9" height="56.2" fill="#6b8c23"/>
<rect x="1617.5" y="2056" width="20.5" height="56.2" fill="#f76ee9"/>
<text x="372.2" y="2076.6" font-size="30.5" textLength="166.4" lengthAdjust="spacingAndGlyphs">Dimerisation</text>
<text x="411.1" y="2113.3" font-size="30.5" textLength="98.0" lengthAdjust="spacingAndGlyphs">domain</text>
<text x="595.0" y="2073.6" font-size="30.5" textLength="150.5" lengthAdjust="spacingAndGlyphs">Apc protein</text>
<text x="624.7" y="2110.6" font-size="30.5" textLength="98.6" lengthAdjust="spacingAndGlyphs">domain</text>
<text x="803.0" y="2073.5" font-size="30.5" textLength="123.1" lengthAdjust="spacingAndGlyphs">Armadillo</text>
<text x="822.4" y="2110.7" font-size="30.5" textLength="99.7" lengthAdjust="spacingAndGlyphs">repeats</text>
<text x="983.6" y="2092.1" font-size="30.5" textLength="143.5" lengthAdjust="spacingAndGlyphs">Apc repeat</text>
<text x="1180.7" y="2092.7" font-size="31" textLength="177.4" lengthAdjust="spacingAndGlyphs">15AA repeats</text>
<text x="1412.6" y="2091.9" font-size="31" textLength="179.5" lengthAdjust="spacingAndGlyphs">20AA repeats</text>
<text x="1646.4" y="2094.5" font-size="31" textLength="156.4" lengthAdjust="spacingAndGlyphs">SAMP motif</text>
</svg>
</body></html>
